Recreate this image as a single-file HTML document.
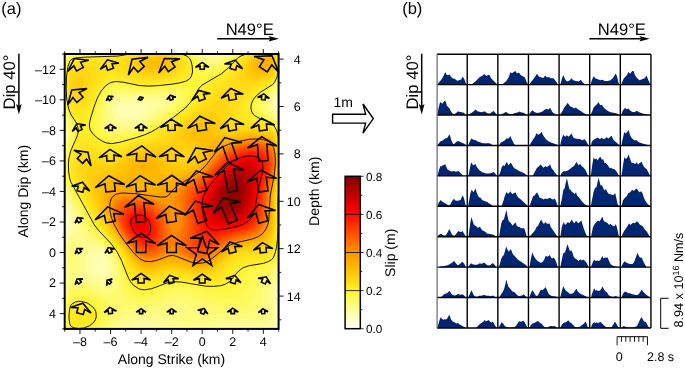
<!DOCTYPE html>
<html><head><meta charset="utf-8"><style>
html,body{margin:0;padding:0;background:#fff;width:685px;height:369px;overflow:hidden}
svg{display:block;will-change:transform}
text{font-family:"Liberation Sans",sans-serif;text-rendering:geometricPrecision}
</style></head><body>
<svg width="685" height="369" viewBox="0 0 685 369" font-family="Liberation Sans, sans-serif" fill="#000"><rect x="64.7" y="54.0" width="213.90" height="274.90" fill="rgb(255, 255, 246)"/>
<path fill="rgb(255, 255, 229)" fill-rule="evenodd" d="M278.6,328.9 64.7,328.9 64.7,54.0 278.6,54.0 278.6,328.9Z"/>
<path fill="rgb(255, 255, 212)" fill-rule="evenodd" d="M278.6,328.9 64.7,328.9 64.7,224.0 65.1,217.9 64.7,211.5 64.7,54.0 278.6,54.0 278.6,328.9Z"/>
<path fill="rgb(255, 254, 195)" fill-rule="evenodd" d="M277.6,328.9 64.7,328.9 64.7,234.6 66.8,223.9 67.1,218.9 66.7,212.9 64.7,200.5 64.7,141.2 65.3,132.0 64.7,124.0 64.7,54.4 65.4,54.0 278.6,54.0 278.6,97.2 277.5,103.0 278.6,109.4 278.6,327.7 278.3,328.9 277.6,328.9Z"/>
<path fill="rgb(255, 254, 178)" fill-rule="evenodd" d="M275.6,328.9 64.7,328.9 64.7,243.2 65.8,236.9 69.0,224.9 69.4,219.9 68.8,213.9 64.7,193.0 64.7,146.9 66.1,132.0 64.7,118.9 64.7,55.6 65.3,55.0 67.4,54.0 278.6,54.0 278.6,92.9 276.2,99.0 275.4,103.0 276.0,107.0 278.6,114.3 278.6,280.5 277.4,292.9 277.6,318.9 276.9,324.9 275.6,328.9Z"/>
<path fill="rgb(255, 253, 160)" fill-rule="evenodd" d="M268.6,328.9 246.2,328.9 233.6,327.9 223.6,328.9 162.5,328.9 150.7,326.5 141.7,325.8 133.7,326.5 124.8,328.9 64.7,328.9 64.7,292.8 65.7,278.9 64.9,258.9 65.2,249.9 66.7,240.0 68.7,233.9 71.8,226.9 72.5,221.9 71.8,216.9 66.7,198.0 64.7,186.3 64.7,152.0 66.5,139.0 67.0,132.0 66.6,126.0 64.7,114.6 64.7,57.0 65.7,55.7 67.7,54.6 70.2,54.0 204.6,54.0 209.6,55.2 213.6,55.5 217.6,55.2 223.5,54.0 278.6,54.0 278.6,89.6 274.2,99.0 273.2,104.0 274.1,108.0 278.6,117.9 278.6,272.6 276.3,283.9 275.5,290.9 275.7,313.9 275.1,320.9 274.1,324.9 272.6,327.3 270.6,328.5 268.6,328.9ZM130.8,119.0 136.7,117.3 142.3,114.0 146.1,110.0 146.6,108.0 146.2,107.0 144.9,106.0 142.3,105.0 129.7,102.6 123.7,102.9 119.7,104.7 117.9,107.0 117.2,110.0 117.7,112.8 118.9,115.0 120.9,117.0 123.7,118.4 126.7,119.0 130.8,119.0ZM104.0,275.9 106.8,273.9 108.6,269.9 108.8,265.9 107.7,261.1 105.7,257.5 102.7,254.7 98.7,253.0 95.7,253.3 93.4,254.9 91.4,258.9 90.8,263.9 91.7,268.9 93.7,272.3 96.7,274.9 100.7,276.3 104.0,275.9Z"/>
<path fill="rgb(255, 252, 143)" fill-rule="evenodd" d="M201.6,328.9 186.5,328.9 183.6,328.5 175.4,326.9 156.7,321.8 150.7,320.9 143.7,320.6 135.7,321.1 129.7,322.4 123.7,324.8 115.9,328.9 64.8,328.9 64.7,301.8 67.1,278.9 66.1,258.9 66.4,249.9 67.5,243.9 68.7,240.1 70.7,236.6 73.6,233.9 75.1,231.9 76.2,228.9 76.4,225.9 76.1,221.9 74.8,216.9 69.7,203.8 67.7,197.1 65.8,188.0 64.7,178.8 64.7,157.8 67.5,138.0 67.9,132.0 67.3,125.0 64.7,110.6 64.7,59.2 65.6,57.0 67.7,55.3 70.7,54.5 78.9,54.0 199.9,54.0 207.6,56.8 213.6,57.6 219.6,56.7 228.5,54.0 278.6,54.0 278.6,86.8 276.2,92.0 271.1,100.0 270.2,104.0 271.3,108.0 275.6,114.6 278.6,121.0 278.6,266.4 273.0,289.9 272.5,296.9 272.8,311.9 272.0,317.9 270.6,320.8 268.6,322.8 265.6,324.4 262.6,325.1 255.6,325.5 238.6,323.9 230.6,323.8 222.6,324.7 201.6,328.9ZM133.6,123.0 138.7,121.3 143.5,119.0 155.1,111.0 160.5,106.0 161.4,104.0 160.7,102.0 158.7,101.0 155.7,100.5 141.7,99.9 126.7,98.3 119.7,99.0 115.7,101.0 112.7,105.0 111.7,110.0 112.4,115.0 114.7,118.9 118.6,122.0 122.7,123.4 127.7,123.8 133.6,123.0ZM106.0,281.9 107.9,280.9 109.7,279.2 111.0,276.9 111.9,273.9 112.1,266.9 110.4,259.9 107.6,254.9 102.7,250.4 96.7,247.8 93.7,247.6 91.7,247.9 89.7,249.1 88.2,250.9 86.2,256.9 85.4,265.9 85.8,269.9 86.7,272.6 89.7,276.9 94.7,280.3 100.7,282.3 103.7,282.4 106.0,281.9Z"/>
<path fill="rgb(255, 251, 126)" fill-rule="evenodd" d="M109.7,328.9 65.6,328.9 65.4,327.9 64.7,318.9 65.1,306.9 66.0,297.9 69.1,277.9 67.7,261.9 67.6,253.9 68.7,247.0 70.7,243.0 73.7,242.1 77.7,242.2 79.7,243.2 80.6,244.9 81.3,251.9 79.5,267.9 79.5,271.9 80.2,274.9 81.4,276.9 85.8,280.9 91.7,284.1 98.7,286.7 103.7,287.8 107.7,287.6 110.7,286.1 113.1,282.9 114.6,277.9 115.1,272.9 114.6,266.9 113.1,260.9 110.7,255.5 107.7,251.4 103.7,247.8 99.7,245.3 94.7,243.0 85.9,239.9 83.4,237.9 82.3,234.9 78.4,218.9 75.6,211.9 70.0,199.9 67.3,191.0 65.6,181.0 64.9,169.0 65.5,156.0 68.4,138.0 68.8,132.0 68.4,126.0 64.7,106.4 64.7,63.9 65.9,58.0 67.7,56.1 69.7,55.3 81.7,54.4 196.3,54.0 207.6,59.7 212.6,60.6 217.6,59.7 232.2,54.0 278.6,54.0 278.6,84.1 275.6,90.6 268.2,100.0 267.1,104.0 267.6,107.0 268.6,109.0 274.6,115.8 276.6,119.1 278.6,123.9 278.6,260.7 275.6,273.0 268.8,288.9 267.7,294.9 266.9,308.9 266.3,311.9 265.0,314.9 261.6,318.0 256.6,319.5 250.6,319.8 235.6,318.9 227.6,319.1 218.6,320.2 203.6,323.1 196.6,323.6 190.6,323.2 184.6,322.0 170.7,316.7 164.7,315.3 153.7,314.6 136.7,315.3 129.7,316.5 124.7,318.4 109.7,328.9ZM130.5,127.0 137.7,125.2 143.7,122.6 151.5,118.0 161.9,111.0 166.9,107.0 169.5,104.0 170.5,101.0 169.7,99.1 166.7,97.4 162.7,96.7 142.7,96.8 124.7,95.1 118.7,95.5 113.7,97.7 111.7,99.5 109.9,102.0 108.0,108.0 107.9,114.0 108.6,117.0 109.9,120.0 113.4,124.0 117.7,126.3 123.7,127.4 130.5,127.0Z"/>
<path fill="rgb(255, 250, 109)" fill-rule="evenodd" d="M103.7,328.9 66.5,328.9 65.8,324.9 65.4,312.9 66.6,299.9 68.7,290.5 70.7,285.7 71.7,284.6 75.7,283.6 79.7,284.2 103.7,293.0 107.7,294.0 110.7,294.2 113.7,292.9 115.8,289.9 117.2,284.9 117.8,277.9 117.5,271.9 116.5,265.9 114.8,259.9 112.4,254.9 109.7,250.9 105.7,246.7 91.6,236.9 86.9,231.9 84.7,227.7 77.6,210.9 70.7,197.5 67.7,188.1 65.9,176.0 65.6,163.0 66.4,154.0 69.4,138.0 70.0,132.0 69.4,126.0 66.0,111.0 64.7,101.4 64.7,69.8 65.7,61.9 66.8,58.0 68.7,56.4 70.7,55.7 82.7,54.8 119.5,54.0 193.1,54.0 198.8,57.0 205.6,62.6 208.6,63.8 211.6,64.1 214.6,63.7 218.6,62.4 228.4,57.0 235.3,54.0 278.6,54.0 278.6,81.5 276.6,86.6 274.6,89.8 265.8,99.0 264.4,102.0 264.0,105.0 264.7,108.0 265.8,110.0 268.7,113.0 272.6,116.0 275.6,119.7 278.6,126.7 278.6,255.0 276.9,263.9 274.6,270.8 272.6,274.6 266.5,281.9 263.9,286.9 262.4,291.9 260.3,302.9 258.2,307.9 256.5,309.9 253.6,311.8 247.6,313.2 205.6,313.5 201.6,312.8 197.6,311.2 187.9,303.9 184.3,301.9 179.6,300.6 174.6,300.5 170.7,301.6 159.8,305.9 152.7,307.7 143.7,308.9 128.7,309.4 123.7,310.6 119.7,313.4 108.5,325.9 104.7,328.9 103.7,328.9ZM129.9,130.0 137.7,128.1 145.0,125.0 153.6,120.0 167.1,111.0 171.9,107.0 175.2,103.0 176.2,100.0 175.4,97.0 172.5,95.0 167.7,93.9 142.7,94.3 123.7,92.2 116.7,92.8 111.7,95.2 109.7,97.0 107.5,100.0 105.0,107.0 104.5,115.0 105.3,119.0 106.4,122.0 109.7,126.3 114.7,129.4 121.7,130.6 129.9,130.0ZM71.7,262.0 70.7,261.4 70.1,256.9 70.7,252.4 71.7,251.8 72.9,252.9 73.7,255.9 73.3,258.9 71.7,262.0Z"/>
<path fill="rgb(255, 249, 92)" fill-rule="evenodd" d="M242.6,305.9 237.6,306.6 230.6,306.8 223.6,306.3 216.6,305.2 208.6,302.8 190.6,294.9 184.6,293.2 179.6,292.4 175.6,292.4 171.7,293.2 154.7,300.8 149.7,302.3 143.7,303.3 137.7,303.2 131.5,301.9 127.3,299.9 124.2,296.9 122.9,293.9 122.1,290.9 120.2,274.9 118.9,267.9 117.2,261.9 114.8,255.9 111.7,250.9 108.7,247.2 104.7,243.4 94.1,234.9 88.9,228.9 78.0,206.9 70.7,193.6 68.2,186.0 66.5,175.0 66.3,162.0 67.3,153.0 71.0,136.0 71.4,131.0 70.9,127.0 67.0,112.0 65.5,104.0 64.7,93.8 64.7,78.7 66.3,63.0 67.3,59.0 68.7,57.3 71.7,56.2 78.7,55.5 117.7,54.6 122.3,54.0 190.2,54.0 194.3,56.0 197.0,58.0 201.6,64.0 203.6,65.8 206.6,67.4 209.6,67.8 213.6,67.3 218.6,65.5 223.6,62.6 231.6,57.0 238.2,54.0 278.6,54.0 278.6,78.9 277.6,82.0 275.6,86.3 273.6,89.1 266.4,95.0 263.6,98.0 261.8,101.0 260.9,105.0 261.8,109.0 263.9,112.0 267.4,115.0 272.6,118.3 274.6,120.4 276.7,124.0 278.6,129.4 278.6,248.8 278.1,252.9 275.6,263.9 272.6,270.0 263.3,277.9 259.9,281.9 257.3,286.9 253.5,296.9 251.2,300.9 247.6,304.0 242.6,305.9ZM127.7,133.0 136.7,130.9 145.7,127.4 153.7,122.8 170.0,112.0 176.0,107.0 179.9,102.0 181.1,98.0 180.2,95.0 178.6,93.5 175.6,92.1 168.7,91.2 142.7,92.0 120.7,89.5 114.7,90.4 110.7,92.3 107.7,95.0 105.5,98.0 103.6,102.0 102.3,106.0 101.2,115.0 101.6,119.0 102.7,123.1 104.1,126.0 106.5,129.0 109.0,131.0 111.7,132.3 114.7,133.2 118.7,133.7 127.7,133.0ZM99.7,328.9 67.5,328.9 66.6,324.9 66.2,319.9 66.7,306.2 68.7,295.9 69.7,293.2 71.7,290.6 74.7,289.5 78.7,289.1 82.7,289.7 88.7,291.5 95.7,294.3 102.5,297.9 106.8,300.9 109.7,303.9 111.3,306.9 111.7,309.9 111.4,312.9 110.1,316.9 108.1,320.9 105.8,323.9 102.7,326.9 99.7,328.9Z"/>
<path fill="rgb(255, 247, 75)" fill-rule="evenodd" d="M231.6,299.0 224.6,298.8 217.6,297.6 190.5,289.9 179.6,287.9 174.6,287.9 170.7,288.6 152.7,296.3 147.7,297.7 143.7,298.2 138.7,297.9 134.7,296.6 130.7,294.1 127.9,290.9 124.8,283.9 119.6,263.9 115.7,254.6 112.8,249.9 109.7,246.1 95.5,232.9 90.6,226.9 70.8,190.0 68.7,183.6 67.0,172.0 67.1,160.0 68.7,150.1 72.7,136.0 73.3,131.0 72.5,126.0 68.7,115.3 66.6,107.0 65.4,97.0 65.1,85.0 65.5,74.0 66.4,66.0 67.9,60.0 69.7,57.6 72.7,56.8 80.5,56.0 117.7,55.1 124.9,54.0 187.4,54.0 191.7,56.0 194.3,58.0 199.6,67.3 201.6,69.8 204.6,71.6 207.6,72.0 213.6,70.8 219.6,68.2 225.6,64.1 232.7,58.0 236.1,56.0 240.9,54.0 278.6,54.0 278.6,76.2 277.2,81.0 275.6,84.3 273.6,87.1 264.6,94.0 260.6,98.0 258.4,102.0 257.7,106.0 258.7,110.0 260.9,113.0 264.9,116.0 272.6,120.4 274.6,122.5 276.6,126.0 278.6,132.2 278.6,241.4 277.0,253.9 275.2,260.9 272.6,266.0 268.6,268.9 258.2,274.9 254.5,277.9 251.4,281.9 246.5,290.9 242.6,295.3 237.6,297.9 231.6,299.0ZM124.9,136.0 137.5,133.0 146.7,129.4 155.7,124.3 172.5,113.0 179.6,107.0 184.3,101.0 185.5,98.0 185.8,96.0 185.5,94.0 184.6,92.3 181.4,90.0 175.6,88.9 168.7,88.8 143.7,90.0 120.7,86.9 114.7,87.4 111.7,88.4 109.1,90.0 106.0,93.0 103.7,96.2 101.7,100.0 99.9,105.0 98.6,111.0 98.0,116.0 98.2,121.0 99.1,125.0 100.4,128.0 102.7,131.0 105.7,133.6 108.7,135.3 111.7,136.3 115.7,136.8 124.9,136.0ZM94.7,328.9 68.8,328.9 67.7,325.7 67.0,320.9 67.2,309.9 68.7,301.0 69.7,297.9 71.7,295.2 74.7,293.9 78.7,293.3 82.7,293.7 87.7,295.0 92.7,297.1 97.5,299.9 101.2,302.9 103.6,305.9 105.1,308.9 105.7,311.9 105.4,315.9 104.5,318.9 102.9,321.9 100.5,324.9 97.7,327.3 94.7,328.9Z"/>
<path fill="rgb(255, 246, 58)" fill-rule="evenodd" d="M148.7,293.1 143.7,293.8 138.7,293.1 133.7,290.5 130.2,286.9 126.9,280.9 120.5,261.9 116.3,252.9 110.7,245.1 97.4,231.9 92.6,225.9 71.7,187.9 70.0,184.0 68.7,178.8 67.8,172.0 67.9,160.0 69.7,150.1 74.2,138.0 75.4,131.0 75.2,128.0 74.1,124.0 70.7,117.4 68.6,112.0 67.0,105.0 66.0,98.0 65.6,87.0 66.0,75.0 67.2,66.0 69.1,60.0 69.7,58.9 71.1,58.0 76.7,57.0 117.7,55.6 127.4,54.0 184.5,54.0 189.1,56.0 191.8,58.0 193.9,62.0 198.4,75.0 200.6,76.9 203.6,77.4 210.6,75.7 219.6,71.4 226.6,66.4 235.3,58.0 238.5,56.0 243.5,54.0 278.0,54.0 278.6,54.9 278.6,73.3 276.3,81.0 274.6,84.0 272.6,86.3 262.7,93.0 258.4,97.0 255.7,101.0 254.4,106.0 255.0,110.0 257.7,114.0 262.0,117.0 271.6,121.7 273.6,123.3 276.6,128.2 278.6,135.0 278.5,231.9 276.9,249.9 275.6,255.7 273.6,260.8 271.6,263.2 267.6,265.5 251.9,270.9 247.9,272.9 244.5,275.9 239.1,283.9 236.6,286.7 233.4,288.9 229.6,290.4 222.6,291.3 212.6,290.7 202.6,289.1 183.6,285.1 175.6,284.4 171.7,284.8 167.7,285.8 154.7,291.3 148.7,293.1ZM116.2,140.0 131.7,136.8 145.7,132.2 154.7,127.5 172.6,115.5 182.0,108.0 188.0,101.0 189.6,98.0 190.8,94.0 190.8,90.0 189.8,88.0 186.6,86.4 181.6,86.0 152.7,87.9 143.7,88.0 118.7,84.3 113.7,84.7 108.7,86.9 105.7,89.5 102.8,93.0 98.7,101.0 95.1,114.0 94.3,120.0 94.4,124.0 95.1,127.0 96.4,130.0 98.6,133.0 101.8,136.0 104.9,138.0 108.7,139.5 112.7,140.1 116.2,140.0ZM88.7,328.9 70.6,328.9 69.7,327.7 68.6,324.9 68.0,320.9 68.1,310.9 69.7,302.8 70.7,300.6 72.7,298.9 75.7,297.7 78.7,297.3 82.7,297.5 86.7,298.6 90.7,300.3 94.7,302.9 96.9,304.9 99.2,307.9 100.5,310.9 101.0,313.9 100.7,316.9 99.7,319.9 97.9,322.9 94.8,325.9 91.5,327.9 88.7,328.9Z"/>
<path fill="rgb(255, 238, 38)" fill-rule="evenodd" d="M150.7,288.9 144.7,289.8 139.7,289.2 135.7,287.2 131.7,283.3 127.9,276.9 121.6,260.9 117.7,252.9 111.7,244.4 99.0,230.9 94.3,224.9 70.7,181.7 69.4,177.0 68.6,171.0 68.4,165.0 68.8,159.0 70.7,150.9 77.2,136.0 78.4,130.0 77.9,127.0 76.4,123.0 69.7,111.9 67.7,105.0 66.7,99.0 66.1,88.0 66.5,76.0 67.7,67.5 69.7,61.4 72.0,59.0 77.7,57.7 86.5,57.0 117.7,56.1 129.8,54.0 181.6,54.0 186.7,56.0 190.1,59.0 191.6,63.0 192.4,67.0 192.2,74.0 191.1,77.0 189.6,78.8 187.6,80.3 184.6,81.6 178.6,83.1 169.7,84.5 156.7,85.8 147.7,86.1 138.7,85.5 122.7,82.1 115.7,81.5 112.7,81.9 109.7,83.0 104.4,87.0 99.7,93.5 95.7,102.0 90.4,119.0 89.4,124.0 89.5,127.0 90.3,130.0 92.3,133.0 98.7,139.0 105.7,142.7 111.7,143.6 121.7,141.8 143.7,135.2 152.7,131.1 161.7,125.5 178.1,114.0 187.3,106.0 192.3,100.0 197.8,90.0 201.0,86.0 205.1,83.0 216.6,76.7 223.6,72.1 229.6,66.7 236.5,59.0 240.6,56.1 246.1,54.0 277.3,54.0 278.6,56.3 278.6,69.8 277.6,75.0 275.6,80.5 272.6,84.6 260.8,92.0 256.1,96.0 253.7,99.0 252.1,102.0 251.2,105.0 250.9,108.0 251.8,112.0 253.1,114.0 255.3,116.0 259.6,118.4 271.6,123.6 273.6,125.1 276.6,130.3 278.6,137.9 278.6,188.1 278.0,199.9 278.0,230.9 276.6,246.6 275.5,251.9 273.6,257.2 271.6,259.7 265.6,262.7 259.6,264.2 248.3,265.9 242.8,267.9 238.6,271.1 229.6,281.6 226.0,283.9 221.6,285.4 214.6,286.4 206.6,286.3 199.6,285.4 181.6,282.1 173.6,281.7 166.7,283.1 150.7,288.9ZM83.7,328.0 78.7,328.5 74.5,327.9 71.7,326.8 70.7,325.9 69.7,323.7 68.9,316.9 69.7,308.5 70.7,305.5 71.7,304.2 75.7,301.9 78.7,301.3 81.7,301.4 87.7,303.2 92.8,306.9 94.7,309.3 95.9,311.9 96.3,316.9 95.3,319.9 94.1,321.9 89.7,325.7 83.7,328.0Z"/>
<path fill="rgb(255, 234, 35)" fill-rule="evenodd" d="M82.7,121.1 80.7,121.1 78.7,119.9 71.7,112.3 69.7,108.7 67.7,100.9 66.7,87.0 67.6,73.0 69.7,64.3 70.7,62.6 72.7,61.0 76.9,59.0 82.7,58.1 117.7,56.7 125.7,55.5 132.1,54.0 178.5,54.0 184.2,56.0 185.8,57.0 187.8,59.0 188.8,62.0 189.4,66.0 189.1,70.0 188.2,73.0 186.2,76.0 183.8,78.0 176.6,81.0 163.7,83.3 148.7,84.3 138.7,83.4 117.7,78.6 112.7,78.7 107.7,80.5 103.4,84.0 99.0,90.0 95.3,97.0 87.7,114.9 84.7,119.6 82.7,121.1ZM149.7,285.9 144.7,286.4 139.7,285.5 135.7,283.1 131.8,278.9 128.7,273.6 122.2,258.9 118.5,251.9 112.7,243.7 100.4,229.9 95.2,222.9 72.7,181.5 70.7,176.9 69.9,173.0 69.4,168.0 69.5,162.0 70.7,155.4 75.7,145.1 80.7,137.3 83.7,135.6 85.7,135.8 87.7,136.8 97.0,143.0 101.7,145.4 105.7,146.7 109.7,147.2 117.7,145.7 143.7,137.3 150.7,134.6 160.7,128.7 177.6,116.8 186.3,110.0 193.6,103.0 204.6,89.3 209.6,85.2 220.6,77.9 225.6,74.0 230.6,69.1 238.7,59.0 241.3,57.0 248.8,54.0 276.5,54.0 277.9,56.0 278.5,58.0 278.6,64.2 277.6,72.2 275.4,79.0 272.6,82.8 258.7,91.0 252.7,96.0 248.8,102.0 247.5,106.0 247.1,109.0 247.4,112.0 248.2,114.0 250.9,117.0 255.6,119.4 269.6,124.4 273.6,126.9 276.4,132.0 278.3,139.0 278.6,141.0 278.6,182.8 277.6,197.9 277.5,228.9 276.2,243.9 274.9,249.9 273.6,253.6 271.6,256.3 265.6,259.4 259.6,260.6 246.6,261.9 240.2,263.9 235.6,267.2 225.6,278.1 221.6,280.6 217.6,282.0 210.6,283.2 203.6,283.2 180.6,279.6 173.6,279.3 166.7,280.4 149.7,285.9ZM82.7,325.1 78.7,325.5 74.7,324.7 71.7,322.5 70.7,320.3 70.4,314.9 71.3,310.9 73.6,307.9 76.7,306.2 80.7,305.8 84.9,306.9 88.7,309.6 90.8,312.9 91.3,316.9 89.7,320.7 86.7,323.4 82.7,325.1Z"/>
<path fill="rgb(255, 229, 32)" fill-rule="evenodd" d="M82.7,114.1 80.7,114.8 77.7,114.1 71.7,109.0 69.7,105.3 68.2,99.0 67.5,93.0 67.4,85.0 68.6,72.0 70.7,65.5 74.7,62.4 79.7,60.4 85.7,59.2 105.7,58.6 116.7,57.6 136.3,54.0 175.0,54.0 181.6,56.0 183.6,57.2 185.4,59.0 186.4,62.0 186.7,66.0 185.9,70.0 184.3,73.0 182.5,75.0 179.6,77.0 175.6,78.8 170.7,80.2 157.7,82.1 145.7,82.3 136.7,80.9 116.7,75.2 111.7,75.0 107.7,76.3 103.0,80.0 98.7,85.5 94.7,92.7 87.7,107.6 84.9,112.0 82.7,114.1ZM149.7,283.0 144.7,283.4 140.7,282.6 136.7,280.3 133.7,277.4 129.7,271.4 122.0,255.9 117.9,248.9 111.7,240.6 100.1,226.9 94.9,218.9 74.7,180.7 71.7,173.9 70.7,169.0 70.8,162.0 71.7,157.9 74.7,151.4 77.7,146.6 79.7,144.3 81.7,142.9 83.7,142.3 85.7,142.3 88.7,143.3 101.7,149.7 105.7,150.7 109.7,150.8 115.7,149.4 129.6,144.0 146.7,138.4 153.7,135.6 162.7,130.1 183.4,115.0 192.0,108.0 208.6,90.9 223.6,79.6 228.6,75.2 232.6,70.5 240.1,60.0 242.6,57.6 246.6,55.6 251.7,54.0 275.7,54.0 277.3,56.0 277.9,58.0 278.1,64.0 277.0,72.0 274.6,78.5 271.6,81.9 256.3,90.0 249.8,95.0 247.4,98.0 245.1,102.0 243.4,107.0 242.7,111.0 242.9,114.0 243.7,116.0 246.8,119.0 251.6,121.0 266.6,125.0 272.6,127.7 275.6,132.0 277.6,138.4 278.6,144.5 278.6,178.1 277.1,196.9 277.0,227.9 275.6,242.5 274.3,247.9 272.6,251.9 269.6,254.5 264.6,256.6 259.6,257.6 245.6,258.7 238.6,260.8 233.6,264.4 225.8,272.9 222.6,275.7 218.6,278.1 213.6,279.8 207.6,280.7 201.6,280.8 179.6,277.4 172.6,277.1 166.7,278.0 149.7,283.0ZM80.7,320.1 77.7,319.9 75.6,317.9 75.7,314.9 76.7,313.6 78.7,312.5 81.7,312.8 83.7,314.9 83.6,317.9 82.7,319.0 80.7,320.1Z"/>
<path fill="rgb(255, 224, 28)" fill-rule="evenodd" d="M81.7,109.2 79.7,109.9 77.7,109.7 74.7,108.1 71.7,105.5 69.7,101.5 68.6,96.0 68.2,83.0 68.7,76.6 69.7,71.6 71.7,67.6 76.7,64.2 81.7,62.5 87.7,61.7 107.7,62.8 110.7,61.8 115.9,59.0 133.7,55.1 144.0,54.0 170.6,54.0 178.9,56.0 180.9,57.0 183.1,59.0 184.0,62.0 184.0,66.0 182.8,70.0 180.6,72.9 178.0,75.0 174.1,77.0 163.7,79.6 151.7,80.5 141.7,79.8 131.3,77.0 113.7,69.9 110.7,69.3 107.7,69.9 103.7,73.1 99.7,78.3 95.2,86.0 86.7,103.2 84.1,107.0 81.7,109.2ZM151.7,280.1 146.7,280.7 141.7,280.0 137.7,277.9 134.7,275.2 130.7,269.7 122.8,254.9 118.7,248.2 112.7,240.1 102.7,227.9 98.0,220.9 76.7,179.4 73.9,173.0 72.8,168.0 72.7,164.0 73.7,159.2 75.7,154.7 79.7,149.4 81.7,148.1 84.7,147.5 88.7,148.5 101.7,153.9 106.7,154.6 110.7,154.3 115.7,152.5 131.7,145.4 149.7,139.7 156.7,136.8 162.7,133.1 192.1,111.0 199.2,105.0 212.6,92.5 227.3,81.0 232.6,75.2 240.9,62.0 244.2,58.0 247.9,56.0 254.9,54.0 274.6,54.0 275.8,55.0 277.1,57.0 277.6,62.0 276.6,70.9 274.4,77.0 271.6,80.1 253.2,89.0 249.6,91.3 246.4,94.0 243.3,98.0 240.6,103.0 238.3,109.0 237.4,114.0 237.7,117.0 238.7,119.0 240.6,120.7 242.6,121.7 247.2,123.0 262.6,125.6 271.6,128.8 274.6,131.9 276.9,138.0 278.6,148.5 278.6,173.2 276.6,195.9 276.6,221.9 276.1,231.9 274.6,242.9 272.6,248.6 268.6,252.1 263.6,254.1 258.6,254.9 245.6,255.9 241.0,256.9 237.6,258.2 232.2,261.9 224.6,270.1 220.6,273.6 216.6,275.9 211.6,277.7 205.6,278.6 199.6,278.6 179.6,275.4 172.6,274.9 166.7,275.8 151.7,280.1Z"/>
<path fill="rgb(255, 219, 24)" fill-rule="evenodd" d="M160.7,78.1 153.7,78.6 146.7,78.4 140.7,77.5 135.6,76.0 128.8,73.0 122.5,69.0 120.0,66.0 119.7,63.0 120.8,61.0 123.0,59.0 133.7,56.1 145.7,54.6 157.2,54.0 167.7,54.4 175.6,55.9 179.8,58.0 181.0,60.0 181.6,64.0 180.7,68.0 178.6,71.1 175.6,73.6 171.7,75.6 166.7,77.1 160.7,78.1ZM149.7,278.0 145.7,278.1 141.7,277.3 137.7,275.1 134.7,272.2 130.7,266.6 119.7,247.9 104.5,227.9 99.9,220.9 95.1,211.9 76.9,173.0 75.8,169.0 75.5,165.0 76.1,161.0 77.7,157.4 80.7,154.0 82.7,153.1 84.7,152.8 88.7,153.5 101.7,158.1 105.7,158.6 109.7,158.2 114.7,156.4 126.6,150.0 132.7,147.2 153.2,141.0 159.7,138.3 164.7,135.1 176.9,125.0 201.4,107.0 229.6,84.9 234.5,79.0 241.9,64.0 244.5,60.0 246.4,58.0 251.6,55.6 258.8,54.0 273.6,54.2 275.6,55.7 276.4,57.0 277.0,62.0 276.1,70.0 273.6,76.3 271.6,78.4 268.6,80.1 248.7,88.0 242.6,92.0 239.3,96.0 235.1,104.0 232.3,111.0 231.4,116.0 231.6,119.0 232.4,121.0 234.1,123.0 235.7,124.0 240.6,125.3 257.6,126.5 266.6,128.4 272.6,131.1 274.6,133.8 275.9,137.0 277.4,143.0 278.3,150.0 278.6,167.0 276.1,195.9 275.6,230.3 274.6,238.3 272.6,245.1 271.3,246.9 268.9,248.9 263.6,251.4 258.6,252.4 243.6,253.9 236.6,256.1 231.0,259.9 219.6,271.2 215.6,273.7 210.6,275.6 204.6,276.7 198.6,276.7 178.6,273.3 172.6,272.9 166.7,273.7 154.7,277.1 149.7,278.0ZM79.7,105.1 76.7,105.1 73.7,103.5 71.7,101.7 70.1,98.0 69.1,92.0 69.0,85.0 69.7,77.0 70.7,73.2 71.7,71.4 74.3,69.0 79.7,66.3 85.7,65.3 91.9,66.0 94.7,67.3 96.4,69.0 96.9,72.0 96.3,75.0 91.8,86.0 86.2,98.0 82.7,103.0 79.7,105.1Z"/>
<path fill="rgb(255, 213, 20)" fill-rule="evenodd" d="M160.7,76.1 153.7,76.6 147.7,76.4 142.7,75.6 137.5,74.0 131.6,71.0 127.9,68.0 126.2,65.0 126.4,62.0 128.9,59.0 133.7,57.3 140.4,56.0 149.7,55.0 158.7,54.7 166.7,55.0 172.4,56.0 177.1,58.0 178.5,60.0 178.9,64.0 178.1,67.0 176.1,70.0 173.6,72.0 169.7,74.0 160.7,76.1ZM248.6,84.0 244.6,84.4 241.6,83.7 240.3,82.0 240.0,80.0 240.5,75.0 242.2,69.0 244.8,63.0 247.5,59.0 250.5,57.0 253.0,56.0 260.6,54.4 270.6,54.2 272.6,54.6 274.6,55.6 275.7,57.0 276.3,59.0 276.2,65.0 274.7,72.0 272.6,75.7 268.6,78.3 263.6,80.4 256.6,82.5 248.6,84.0ZM78.7,100.2 76.7,100.3 74.7,99.5 72.0,97.0 71.0,95.0 70.1,88.0 70.7,79.4 72.7,75.1 76.7,71.6 80.7,70.0 85.7,70.0 88.0,71.0 89.8,73.0 90.5,76.0 90.0,80.0 87.8,87.0 84.7,93.7 81.7,98.1 78.7,100.2ZM202.6,274.9 194.6,274.5 178.6,271.4 172.6,270.9 166.7,271.6 152.7,275.3 146.7,275.8 141.7,274.8 136.7,271.5 132.1,265.9 121.6,248.9 105.5,226.9 100.5,218.9 94.4,205.9 81.8,176.0 79.8,170.0 79.6,165.0 81.1,161.0 82.7,159.6 84.7,158.9 88.7,159.2 101.7,162.5 106.7,162.6 110.7,161.8 114.7,160.0 126.7,152.5 134.0,149.0 140.7,146.6 155.7,143.1 161.7,141.1 166.7,138.0 174.9,130.0 180.8,125.0 194.6,115.1 219.6,100.2 223.6,98.3 226.6,97.8 228.0,99.0 228.1,101.0 225.7,111.0 225.4,118.0 226.9,123.0 229.4,126.0 232.6,127.6 235.6,128.2 255.6,128.2 265.6,129.7 269.6,131.1 272.6,132.8 274.2,135.0 275.6,138.1 277.7,148.0 278.4,162.0 277.8,173.0 275.5,195.9 275.4,221.9 274.6,232.9 273.6,238.4 272.4,241.9 270.2,244.9 266.6,247.6 260.6,249.8 243.6,251.9 236.6,253.8 230.6,257.5 220.6,267.5 216.1,270.9 209.6,273.8 202.6,274.9Z"/>
<path fill="rgb(255, 207, 15)" fill-rule="evenodd" d="M255.6,80.1 251.6,80.2 248.6,79.6 246.2,78.0 245.0,76.0 244.6,72.0 245.3,68.0 246.7,64.0 249.0,60.0 251.1,58.0 253.1,57.0 259.6,55.3 268.6,54.8 271.6,55.1 273.9,56.0 274.8,57.0 275.6,59.0 275.6,64.0 274.6,69.6 272.6,73.7 269.6,75.8 265.6,77.7 260.6,79.2 255.6,80.1ZM160.7,74.0 154.7,74.5 149.7,74.3 144.7,73.5 140.0,72.0 136.2,70.0 132.9,67.0 131.7,64.0 132.0,62.0 134.6,59.0 137.0,58.0 142.7,56.7 151.7,55.7 159.7,55.5 167.4,56.0 171.9,57.0 175.2,59.0 176.0,61.0 176.1,64.0 175.4,66.0 173.6,68.6 171.7,70.3 168.4,72.0 160.7,74.0ZM78.7,93.1 76.7,93.5 74.4,92.0 73.1,89.0 72.9,85.0 73.7,81.9 75.7,78.7 77.7,77.1 80.7,76.5 82.7,77.4 83.7,78.9 84.0,83.0 83.3,86.0 81.7,89.7 78.7,93.1ZM204.6,273.0 195.6,272.9 178.6,269.6 172.6,268.9 166.7,269.6 152.7,273.2 146.7,273.6 141.7,272.4 137.7,269.9 132.7,264.2 122.1,247.9 107.1,226.9 102.3,218.9 97.3,207.9 90.8,191.0 87.3,179.0 86.4,172.0 87.2,169.0 89.7,167.2 92.7,166.8 105.7,166.9 112.7,165.1 116.7,162.8 129.0,154.0 138.7,149.5 147.7,147.4 164.7,145.3 168.7,144.1 171.7,141.2 175.4,135.0 178.4,131.0 186.3,124.0 193.6,118.9 201.6,114.5 207.6,112.2 212.6,111.6 214.6,112.1 216.6,113.5 222.5,126.0 224.6,128.2 227.8,130.0 234.6,131.1 251.6,129.9 259.6,130.1 267.6,131.8 272.6,134.4 275.2,139.0 276.9,146.0 277.9,156.0 277.8,167.0 274.9,195.9 274.4,227.9 272.8,236.9 270.8,240.9 266.7,244.9 261.6,247.3 256.6,248.4 242.6,250.2 234.6,252.7 229.6,256.0 219.6,265.7 215.6,268.8 210.6,271.4 204.6,273.0ZM186.7,161.0 189.5,159.0 190.5,157.0 190.3,155.0 188.8,153.0 185.6,151.3 181.6,150.6 178.6,151.0 176.6,152.2 175.8,154.0 175.7,156.0 176.3,158.0 177.7,160.0 179.6,161.1 181.6,161.6 183.6,161.7 186.7,161.0Z"/>
<path fill="rgb(255, 200, 10)" fill-rule="evenodd" d="M259.6,77.1 255.6,77.2 252.6,76.6 250.6,75.6 249.2,74.0 248.1,71.0 248.2,68.0 249.2,64.0 250.8,61.0 252.3,59.0 253.7,58.0 259.6,56.1 266.6,55.5 272.6,56.2 274.4,58.0 275.0,62.0 274.4,67.0 272.6,71.4 270.6,73.2 267.2,75.0 259.6,77.1ZM156.7,72.0 148.7,71.6 144.7,70.5 141.7,69.2 138.1,66.0 137.4,64.0 137.7,62.0 139.2,60.0 140.7,58.9 144.7,57.7 151.7,56.7 158.7,56.4 164.7,56.7 169.7,57.8 171.9,59.0 172.8,61.0 172.7,64.0 171.8,66.0 169.9,68.0 164.7,70.7 156.7,72.0ZM205.6,271.0 200.6,271.6 195.6,271.3 177.6,267.5 171.7,266.9 166.7,267.6 153.7,271.0 147.7,271.5 142.7,270.6 138.7,268.3 135.7,265.5 131.7,260.4 109.9,228.9 105.0,220.9 100.5,210.9 95.9,197.9 93.4,189.0 92.6,182.0 93.4,177.0 94.7,175.1 96.2,174.0 99.7,172.7 109.7,170.6 114.1,169.0 118.7,166.0 126.6,159.0 131.7,155.3 137.7,152.4 143.7,150.6 153.7,149.9 158.7,150.6 161.7,151.7 163.7,153.0 165.5,155.0 170.7,163.1 172.9,165.0 175.6,166.2 178.6,166.9 182.6,166.9 186.6,166.0 190.6,164.3 194.0,162.0 196.4,159.0 197.7,155.0 197.5,152.0 196.6,150.0 194.6,147.8 185.6,143.0 182.9,141.0 181.4,138.0 181.9,134.0 185.3,129.0 192.6,123.2 200.6,119.0 206.6,117.9 209.6,118.5 211.6,119.7 213.6,121.9 218.6,129.2 221.6,131.6 224.6,132.8 232.6,133.6 249.6,131.7 257.6,131.6 265.6,132.8 271.6,135.3 273.9,138.0 276.0,144.0 277.2,152.0 277.6,162.0 277.0,173.0 274.3,195.9 273.8,225.9 272.6,233.2 270.6,237.9 266.6,242.4 261.6,245.1 255.6,246.7 240.7,248.9 233.6,251.3 228.2,254.9 215.6,266.5 210.6,269.4 205.6,271.0Z"/>
<path fill="rgb(255, 192, 4)" fill-rule="evenodd" d="M262.6,74.2 256.6,74.1 254.6,73.4 252.9,72.0 251.8,70.0 251.4,68.0 251.7,65.0 252.9,62.0 255.1,59.0 259.8,57.0 266.6,56.3 270.6,56.7 272.6,57.4 273.8,59.0 274.0,62.0 273.6,65.9 272.6,68.6 271.5,70.0 268.6,72.1 262.6,74.2ZM158.7,69.0 152.7,69.0 147.7,67.6 145.7,66.5 144.2,65.0 143.8,64.0 144.1,62.0 145.8,60.0 147.5,59.0 151.8,58.0 160.7,57.7 163.9,58.0 167.1,59.0 168.0,60.0 168.8,62.0 167.7,65.0 165.7,66.8 163.7,67.8 158.7,69.0ZM206.6,269.0 201.6,269.8 195.6,269.7 189.6,268.6 177.6,265.6 171.7,264.9 166.7,265.6 153.7,269.0 147.7,269.5 142.7,268.4 138.7,266.1 135.7,263.2 131.7,258.2 113.3,231.9 106.1,219.9 101.7,208.9 98.0,195.9 97.0,188.0 97.3,185.0 98.3,182.0 99.7,179.9 102.7,177.8 114.2,174.0 118.7,171.8 121.7,169.4 128.2,162.0 132.7,158.0 138.2,155.0 143.7,153.4 150.7,153.3 154.1,154.0 156.7,155.1 160.2,158.0 166.2,167.0 168.7,169.0 171.7,170.2 176.6,170.9 181.6,170.6 187.6,169.0 192.1,167.0 197.4,163.0 200.4,159.0 202.4,154.0 202.7,149.0 201.9,146.0 200.6,144.0 192.8,139.0 190.5,137.0 189.4,135.0 189.4,133.0 190.6,130.3 192.9,128.0 195.9,126.0 199.6,124.3 203.6,123.9 206.6,124.8 209.2,127.0 214.6,133.4 217.6,135.0 220.6,135.7 230.6,136.0 247.6,133.6 255.6,133.0 262.6,133.6 268.6,135.3 272.6,137.9 274.6,141.5 276.4,149.0 277.2,159.0 276.6,172.5 273.7,195.9 273.1,223.9 272.4,228.9 270.7,233.9 269.1,236.9 266.6,239.8 261.6,243.0 255.6,244.8 239.6,247.6 231.6,250.6 226.6,254.2 214.8,264.9 210.6,267.4 206.6,269.0Z"/>
<path fill="rgb(255, 183, 0)" fill-rule="evenodd" d="M264.6,71.1 259.6,71.2 256.6,69.8 255.1,67.0 255.6,63.0 257.6,59.9 261.0,58.0 266.6,57.4 270.7,58.0 272.2,59.0 272.6,60.1 272.6,64.0 271.9,66.0 269.1,69.0 264.6,71.1ZM158.7,63.5 156.7,63.8 154.8,63.0 155.1,62.0 157.7,61.3 159.7,62.0 159.6,63.0 158.7,63.5ZM203.6,267.9 198.6,268.3 193.6,267.8 177.6,263.6 172.6,262.8 167.7,263.3 155.7,266.6 149.7,267.5 143.7,266.7 138.7,263.9 132.7,257.5 120.7,240.9 113.3,229.9 108.2,220.9 104.0,209.9 101.4,198.9 101.0,191.0 102.5,186.0 104.7,183.3 107.7,181.5 121.7,177.3 125.7,175.2 127.7,172.8 130.9,166.0 132.9,163.0 136.0,160.0 140.7,157.6 143.7,156.9 147.7,156.9 150.7,157.6 153.1,159.0 155.2,161.0 156.5,163.0 160.2,172.0 162.7,174.2 165.0,175.0 168.7,175.3 177.6,174.6 183.6,173.2 189.6,171.0 194.6,168.2 198.6,165.1 201.5,162.0 204.1,158.0 209.6,144.5 211.6,142.1 213.6,141.0 218.6,139.7 252.6,134.6 261.6,134.9 268.8,137.0 272.6,139.6 274.6,143.7 276.1,151.0 276.8,161.0 276.1,173.0 272.9,195.9 272.3,221.9 271.3,227.9 269.4,232.9 265.6,238.1 260.6,241.4 254.6,243.3 238.6,246.3 231.6,248.9 225.7,252.9 213.6,263.7 208.6,266.4 203.6,267.9Z"/>
<path fill="rgb(255, 174, 0)" fill-rule="evenodd" d="M265.6,67.1 263.6,67.4 261.4,67.0 260.2,66.0 259.8,64.0 260.5,62.0 261.6,60.8 263.6,59.7 265.6,59.3 268.3,60.0 269.5,62.0 268.6,65.0 265.6,67.1ZM204.6,266.0 199.6,266.6 193.6,266.1 177.6,261.5 172.6,260.6 167.7,261.1 155.7,264.6 150.7,265.5 144.7,265.0 139.7,262.6 133.7,256.7 124.7,244.8 115.8,231.9 110.1,221.9 106.8,212.9 104.8,203.9 104.4,195.9 105.7,190.8 107.7,188.1 110.7,186.1 114.7,184.8 118.7,184.4 125.7,184.7 139.6,188.0 144.7,188.7 150.7,188.8 156.0,188.0 159.7,186.4 168.7,181.3 186.6,174.9 195.8,170.0 199.6,167.0 203.6,162.6 212.7,148.0 215.6,145.2 218.6,143.4 227.6,140.7 250.6,136.2 260.6,136.2 264.6,136.9 268.6,138.4 272.6,141.4 274.3,145.0 275.8,152.0 276.4,161.0 275.6,173.3 272.0,196.9 271.2,220.9 270.3,225.9 268.6,230.9 265.2,235.9 260.6,239.4 254.6,241.6 238.6,244.9 231.6,247.3 225.6,251.1 212.6,262.3 208.6,264.6 204.6,266.0ZM144.7,169.1 141.7,169.1 140.4,168.0 140.2,166.0 141.7,163.9 144.7,163.4 146.0,164.0 146.8,165.0 146.7,167.4 144.7,169.1Z"/>
<path fill="rgb(255, 164, 0)" fill-rule="evenodd" d="M200.6,264.9 196.6,264.9 191.6,264.0 177.6,259.3 172.6,258.2 167.7,258.8 156.7,262.4 150.7,263.5 144.7,263.1 139.7,260.7 133.7,254.8 124.7,243.2 117.0,231.9 112.0,222.9 109.1,214.9 107.5,206.9 107.3,199.9 108.7,194.9 110.7,192.4 112.7,190.9 115.7,189.8 119.7,189.3 125.7,189.6 150.7,192.9 157.6,192.9 161.7,192.1 164.7,190.6 174.6,183.2 190.6,175.4 198.6,170.2 205.6,163.1 214.6,150.1 217.6,147.4 221.6,145.0 226.8,143.0 235.6,140.6 250.6,137.7 260.6,137.6 264.6,138.4 268.6,140.0 272.6,143.3 274.2,147.0 275.6,154.8 275.9,163.0 274.7,176.0 271.1,196.9 270.0,220.9 268.6,226.8 266.8,230.9 263.6,235.0 259.5,237.9 253.6,240.2 238.6,243.5 231.6,245.8 224.8,249.9 214.6,258.8 210.6,261.7 205.6,264.0 200.6,264.9Z"/>
<path fill="rgb(255, 154, 0)" fill-rule="evenodd" d="M202.6,263.0 197.6,263.3 191.6,262.3 176.6,256.4 172.6,255.4 168.7,255.9 156.7,260.4 150.7,261.6 144.7,261.2 139.7,258.7 134.7,254.1 126.7,244.3 119.4,233.9 114.3,224.9 111.5,217.9 110.0,210.9 109.8,203.9 111.1,198.9 112.7,196.6 115.7,194.4 118.7,193.5 122.7,193.0 134.7,193.6 160.7,197.1 165.7,196.9 168.7,195.1 173.7,189.0 178.3,185.0 193.6,175.9 200.6,170.7 206.6,164.5 216.1,152.0 219.4,149.0 222.6,146.9 227.6,144.6 234.6,142.4 249.6,139.2 259.6,138.9 263.6,139.6 267.6,141.1 271.6,144.0 273.6,147.6 275.0,154.0 275.4,163.0 274.3,175.0 270.2,195.9 268.8,219.9 267.7,224.9 266.1,228.9 262.6,233.6 258.6,236.5 252.6,238.9 236.6,242.6 230.3,244.9 223.7,248.9 210.6,259.7 206.6,261.8 202.6,263.0Z"/>
<path fill="rgb(255, 139, 0)" fill-rule="evenodd" d="M203.6,261.0 197.6,261.5 191.6,260.4 185.4,257.9 175.6,252.7 172.6,252.0 169.7,252.5 157.7,257.9 151.7,259.6 145.7,259.5 140.7,257.5 135.7,253.4 128.7,245.3 121.2,234.9 116.0,225.9 113.3,218.9 112.0,211.9 112.1,205.9 113.7,201.3 115.7,198.9 118.7,197.0 122.7,196.0 127.7,195.6 135.7,195.9 144.7,197.0 152.7,198.6 158.7,200.4 164.7,203.3 168.7,206.9 170.3,209.9 172.6,221.0 173.6,223.0 174.6,223.9 175.6,224.0 177.1,221.9 177.5,218.9 176.6,214.4 174.2,206.9 173.8,202.9 174.6,196.9 176.6,191.9 178.8,189.0 181.9,186.0 196.6,176.0 202.6,171.0 207.4,166.0 215.2,156.0 218.9,152.0 223.6,148.5 228.6,146.1 236.6,143.4 245.6,141.2 252.6,140.2 258.6,140.2 263.6,141.0 267.6,142.7 271.6,145.9 273.5,150.0 274.7,156.0 274.9,164.0 273.6,175.9 269.3,194.9 267.7,218.9 266.6,223.9 264.8,227.9 261.6,232.2 257.6,235.2 251.6,237.6 235.6,241.5 229.3,243.9 222.7,247.9 210.6,257.8 206.8,259.9 203.6,261.0Z"/>
<path fill="rgb(255, 123, 0)" fill-rule="evenodd" d="M203.6,259.2 200.6,259.8 196.6,259.6 192.6,258.8 188.6,257.2 181.8,252.9 175.6,246.9 173.6,245.6 171.7,246.2 161.2,253.9 154.7,256.9 150.7,257.8 147.7,257.9 143.7,257.1 140.7,255.7 135.7,251.6 128.7,243.7 122.4,234.9 117.8,226.9 115.0,219.9 113.9,213.9 114.2,207.9 115.5,203.9 117.7,201.3 120.7,199.4 124.7,198.2 130.7,197.7 138.7,198.0 145.7,199.1 151.7,200.6 157.4,202.9 161.7,205.9 164.9,209.9 166.9,214.9 171.7,232.8 173.6,236.2 174.6,236.6 175.6,236.2 177.6,234.1 179.6,230.8 182.0,223.9 182.0,216.9 179.2,203.9 178.9,198.9 180.2,192.9 183.8,188.0 202.6,173.1 207.6,167.9 218.6,154.7 222.6,151.2 226.3,149.0 237.6,144.5 249.6,141.8 254.6,141.4 259.6,141.7 263.6,142.5 266.6,143.8 270.6,146.9 272.6,149.8 274.0,156.0 274.4,164.0 272.9,176.0 268.4,193.9 266.4,218.9 265.4,222.9 263.6,226.9 260.6,230.9 256.5,233.9 250.6,236.4 235.6,240.2 228.6,242.8 221.6,246.9 209.6,256.4 203.6,259.2Z"/>
<path fill="rgb(255, 108, 0)" fill-rule="evenodd" d="M199.6,257.9 193.3,256.9 187.3,253.9 183.1,249.9 180.9,244.9 180.9,239.9 184.3,227.9 185.2,222.9 185.0,216.9 182.3,200.9 182.7,195.9 184.3,191.9 188.3,187.0 204.8,173.0 219.6,156.0 226.6,150.6 231.6,148.1 237.5,146.0 249.6,143.2 254.6,142.8 259.6,143.1 263.6,144.0 266.6,145.4 270.6,149.0 272.6,152.6 273.6,158.0 273.7,165.0 272.6,173.8 267.5,192.9 265.2,217.9 264.2,221.9 262.4,225.9 259.3,229.9 254.6,233.2 248.6,235.6 234.6,239.2 228.6,241.3 221.6,245.2 207.6,255.6 203.6,257.3 199.6,257.9ZM148.7,256.0 144.7,255.6 141.7,254.4 135.7,249.9 126.7,239.4 119.5,227.9 116.4,219.9 115.7,215.9 115.7,211.9 116.2,208.9 117.4,205.9 118.9,203.9 121.7,201.9 126.7,200.2 132.7,199.6 140.7,200.0 147.7,201.4 153.7,203.6 157.6,205.9 160.7,208.9 163.3,212.9 165.6,219.9 167.8,231.9 168.3,237.9 167.5,242.9 164.6,247.9 160.1,251.9 154.7,254.7 148.7,256.0Z"/>
<path fill="rgb(255, 97, 0)" fill-rule="evenodd" d="M204.6,255.0 201.6,255.8 198.6,255.9 192.6,254.3 187.9,250.9 186.3,248.9 185.0,245.9 184.6,239.9 187.1,227.9 187.7,221.9 185.3,199.9 185.8,195.9 187.3,191.9 191.4,187.0 206.6,173.0 220.6,157.1 227.6,151.7 237.6,147.3 249.6,144.5 258.6,144.3 262.6,145.2 265.6,146.6 268.7,149.0 271.6,153.1 272.9,158.0 273.0,165.0 271.7,174.0 266.7,191.9 264.3,215.9 263.1,220.9 261.6,224.3 258.0,228.9 253.6,232.0 248.6,234.1 233.6,238.1 226.3,240.9 219.4,244.9 208.6,252.9 204.6,255.0ZM149.7,254.0 145.7,253.9 142.7,253.1 139.7,251.5 136.7,249.2 128.3,239.9 121.2,228.9 118.0,220.9 117.4,216.9 117.4,212.9 118.1,209.9 119.6,206.9 121.4,204.9 123.7,203.5 127.7,202.0 133.7,201.3 140.7,201.6 146.7,202.8 151.7,204.7 155.7,207.2 158.7,210.0 161.3,213.9 163.5,219.9 165.0,227.9 165.5,234.9 164.8,240.9 162.7,245.9 159.7,249.3 154.7,252.5 149.7,254.0Z"/>
<path fill="rgb(255, 85, 0)" fill-rule="evenodd" d="M203.6,253.1 198.6,253.6 193.5,251.9 190.1,248.9 188.9,246.9 187.9,243.9 187.8,238.9 189.6,227.0 190.0,221.9 188.0,204.9 187.9,199.9 188.5,195.9 190.1,191.9 193.2,188.0 206.6,174.9 220.6,159.1 224.6,155.5 228.6,152.8 238.6,148.4 249.6,145.8 254.6,145.5 258.6,145.8 261.6,146.4 265.1,148.0 268.6,151.0 271.0,155.0 272.2,160.0 272.2,165.0 271.1,172.0 265.6,191.9 263.0,215.9 261.9,219.9 260.1,223.9 256.8,227.9 252.5,230.9 246.6,233.3 232.6,237.1 225.6,239.7 218.6,243.6 207.6,251.3 203.6,253.1ZM149.7,252.0 145.7,252.1 142.7,251.3 139.7,249.8 136.7,247.5 128.8,238.9 122.4,228.9 119.4,220.9 119.0,216.9 119.1,213.9 120.9,208.9 122.7,206.9 125.6,204.9 129.7,203.6 134.7,202.9 140.7,203.2 145.7,204.2 150.1,205.9 153.7,208.0 156.8,210.9 159.6,214.9 161.5,219.9 163.0,226.9 163.3,233.9 162.5,239.9 160.9,243.9 157.8,247.9 153.7,250.7 149.7,252.0Z"/>
<path fill="rgb(255, 74, 0)" fill-rule="evenodd" d="M201.6,251.1 197.6,250.7 194.4,248.9 192.0,245.9 190.8,241.9 190.7,237.9 192.1,221.9 190.2,200.9 191.0,195.9 192.7,191.9 195.7,188.0 207.6,175.7 220.6,161.1 225.1,157.0 229.6,153.8 238.6,149.7 249.6,147.1 257.6,147.1 261.6,148.0 264.6,149.5 267.6,152.1 270.0,156.0 271.0,160.0 271.2,165.0 270.0,172.0 264.6,191.9 261.8,214.9 260.6,219.4 258.9,222.9 255.6,226.9 250.6,230.3 245.6,232.3 231.6,236.1 224.6,238.6 218.2,241.9 206.6,249.4 201.6,251.1ZM149.7,249.9 146.7,250.3 143.7,249.9 140.7,248.7 137.7,246.7 130.7,239.6 124.2,229.9 121.3,222.9 120.6,218.9 120.6,215.9 121.3,212.9 122.7,210.1 124.7,208.0 126.7,206.7 130.7,205.2 134.7,204.6 139.7,204.7 144.7,205.6 148.7,207.1 152.7,209.5 155.7,212.4 158.0,215.9 160.0,220.9 161.2,226.9 161.4,232.9 160.8,237.9 159.4,241.9 156.7,245.9 153.7,248.3 149.7,249.9Z"/>
<path fill="rgb(255, 62, 0)" fill-rule="evenodd" d="M202.6,248.0 199.6,247.9 196.6,246.2 194.6,243.4 193.7,239.9 194.2,221.9 192.4,201.9 193.1,196.9 195.1,191.9 198.9,187.0 220.6,163.0 225.6,158.3 230.3,155.0 239.0,151.0 248.6,148.6 256.6,148.4 260.6,149.3 263.6,150.7 266.6,153.2 268.9,157.0 269.9,161.0 269.9,166.0 268.7,173.0 263.5,191.9 260.6,214.4 259.3,218.9 257.8,221.9 254.4,225.9 248.6,229.6 223.6,237.5 217.6,240.3 206.6,246.7 202.6,248.0ZM148.7,248.1 145.7,248.3 142.7,247.8 137.7,245.0 130.7,237.8 125.0,228.9 122.4,221.9 122.4,215.9 123.3,212.9 124.6,210.9 128.5,207.9 131.7,206.8 135.7,206.2 140.7,206.3 144.7,207.2 148.7,208.9 151.7,210.9 154.7,213.9 156.7,217.0 158.6,221.9 159.5,226.9 159.6,231.9 159.0,236.9 157.5,240.9 155.5,243.9 152.7,246.4 148.7,248.1Z"/>
<path fill="rgb(255, 51, 0)" fill-rule="evenodd" d="M205.6,244.0 202.6,244.4 199.6,243.4 197.7,240.9 196.6,236.9 196.2,221.9 194.5,202.9 195.3,196.9 198.0,191.0 201.9,186.0 221.5,164.0 226.6,159.2 231.3,156.0 239.6,152.1 248.6,150.0 256.6,149.9 259.6,150.6 262.6,151.9 265.6,154.5 267.6,157.8 268.6,161.5 268.7,166.0 267.5,173.0 262.4,191.9 259.6,212.9 258.5,216.9 256.6,220.9 252.6,225.5 247.6,228.5 241.6,230.8 223.5,235.9 205.6,244.0ZM148.7,246.0 145.7,246.4 142.7,246.0 137.7,243.3 131.7,237.3 126.8,229.9 124.3,223.9 123.8,217.9 124.5,214.9 125.6,212.9 127.4,210.9 129.7,209.5 132.7,208.3 136.7,207.7 140.7,207.9 144.7,208.9 147.7,210.2 150.7,212.2 153.3,214.9 155.3,217.9 156.9,221.9 157.8,226.9 157.9,231.9 157.2,235.9 155.7,239.9 153.7,242.8 151.7,244.5 148.7,246.0Z"/>
<path fill="rgb(255, 39, 0)" fill-rule="evenodd" d="M206.6,240.1 203.6,240.0 201.6,238.9 199.9,235.9 199.1,231.9 196.7,208.9 196.5,202.9 197.4,196.9 200.1,191.0 204.7,185.0 220.6,166.7 226.6,161.0 231.6,157.3 239.6,153.5 248.6,151.4 255.6,151.3 258.6,151.9 261.6,153.3 264.6,155.9 266.4,159.0 267.4,163.0 267.3,167.0 266.3,173.0 261.4,191.0 258.4,211.9 257.3,215.9 255.4,219.9 251.6,224.3 245.5,227.9 239.8,229.9 223.6,234.3 206.6,240.1ZM147.7,244.0 145.7,244.4 142.7,244.1 137.7,241.5 132.2,235.9 127.7,228.9 125.6,222.9 125.6,217.9 127.3,213.9 130.9,210.9 136.7,209.4 140.7,209.5 143.7,210.2 146.7,211.5 149.7,213.5 152.0,215.9 153.9,218.9 155.5,222.9 156.1,226.9 156.2,230.9 155.5,234.9 154.4,237.9 152.7,240.7 150.7,242.6 147.7,244.0Z"/>
<path fill="rgb(255, 28, 0)" fill-rule="evenodd" d="M209.6,236.1 205.6,235.6 203.6,234.1 202.1,230.9 201.2,226.9 198.9,211.9 198.4,203.9 199.4,196.9 202.1,191.0 207.3,184.0 220.6,168.6 226.6,162.6 231.6,158.9 239.6,155.0 247.6,152.9 254.6,152.7 257.6,153.4 260.6,154.7 263.3,157.0 265.1,160.0 266.0,164.0 265.9,168.0 264.8,174.0 260.3,191.0 257.3,210.9 256.1,214.9 254.2,218.9 251.9,221.9 249.7,223.9 243.6,227.2 236.6,229.4 209.6,236.1ZM146.7,242.0 142.7,242.1 140.7,241.5 137.7,239.6 132.7,234.5 128.7,227.9 127.1,222.9 127.2,218.9 129.1,214.9 132.7,212.2 137.7,211.0 140.7,211.2 143.7,211.9 148.8,214.9 150.7,216.9 152.7,220.1 153.7,222.9 154.4,226.9 153.8,233.9 151.3,238.9 149.1,240.9 146.7,242.0Z"/>
<path fill="rgb(255, 16, 0)" fill-rule="evenodd" d="M218.6,232.0 212.6,232.7 208.6,232.2 205.6,230.0 204.1,226.9 201.4,215.9 200.3,205.9 200.9,198.9 203.5,191.9 208.3,185.0 219.6,171.6 226.0,165.0 231.6,160.5 238.6,156.8 246.6,154.5 253.6,154.3 258.6,155.6 261.6,157.8 263.6,161.0 264.4,164.0 264.4,168.0 263.4,174.0 259.1,191.0 256.3,208.9 253.6,216.9 249.7,221.9 243.6,225.7 235.6,228.3 218.6,232.0ZM144.7,240.1 140.7,239.4 136.7,236.8 132.7,232.2 129.8,226.9 128.8,222.9 129.2,218.9 130.9,215.9 134.7,213.5 139.7,212.8 144.7,214.2 148.7,217.2 151.6,221.9 152.7,227.9 151.7,233.9 150.7,236.1 148.7,238.4 146.7,239.6 144.7,240.1Z"/>
<path fill="rgb(255, 5, 0)" fill-rule="evenodd" d="M217.6,230.0 212.6,229.8 209.6,228.6 207.0,225.9 204.8,220.9 202.7,211.9 202.2,203.9 203.0,197.9 205.3,191.9 210.0,185.0 220.1,173.0 226.6,166.2 232.6,161.5 239.6,157.9 246.6,156.1 252.6,155.8 257.6,157.3 260.0,159.0 262.0,162.0 262.8,165.0 262.8,169.0 261.8,175.0 257.8,191.0 255.2,207.9 252.4,215.9 248.4,220.9 245.6,223.0 241.6,225.0 230.6,228.0 217.6,230.0ZM145.7,237.3 142.7,237.7 138.7,236.1 135.2,232.9 132.5,228.9 131.0,224.9 130.8,220.9 132.2,217.9 134.7,215.8 138.7,214.8 142.7,215.4 146.7,217.9 149.1,220.9 150.7,225.9 150.4,230.9 148.7,234.9 145.7,237.3Z"/>
<path fill="rgb(248, 0, 0)" fill-rule="evenodd" d="M227.6,227.1 219.6,227.8 214.6,227.3 211.5,225.9 208.6,223.0 205.7,215.9 204.2,207.9 204.3,200.9 206.2,193.9 209.6,188.0 216.6,178.9 224.6,170.0 231.6,163.9 237.6,160.4 244.6,158.0 250.6,157.5 255.6,158.5 258.6,160.6 260.2,163.0 261.0,166.0 261.1,170.0 260.3,175.0 256.5,191.0 254.2,205.9 252.1,212.9 249.1,217.9 244.4,221.9 237.6,224.9 227.6,227.1ZM143.7,235.0 140.7,234.7 137.9,232.9 135.7,230.6 133.6,226.9 132.9,223.9 133.3,220.9 134.6,218.9 136.7,217.6 139.7,217.0 142.7,217.7 145.7,219.8 147.7,222.9 148.6,226.9 147.9,230.9 145.8,233.9 143.7,235.0Z"/>
<path fill="rgb(237, 0, 0)" fill-rule="evenodd" d="M230.6,225.0 223.6,225.8 217.6,225.4 213.6,223.8 210.6,221.1 207.6,215.0 206.2,207.9 206.2,200.9 207.7,194.9 210.7,189.0 216.6,181.0 224.6,171.9 231.2,166.0 236.6,162.6 242.6,160.2 248.6,159.3 253.6,160.0 256.6,161.8 258.2,164.0 259.1,167.0 259.3,170.0 258.6,176.0 255.4,190.0 252.9,204.9 251.6,209.9 248.6,215.9 244.5,219.9 238.6,223.0 230.6,225.0ZM143.7,231.2 141.7,231.6 139.7,231.0 136.8,227.9 135.7,223.9 136.2,221.9 137.7,220.5 139.7,219.9 141.7,220.2 143.7,221.5 144.8,222.9 145.7,225.3 145.7,227.9 144.9,229.9 143.7,231.2Z"/>
<path fill="rgb(225, 0, 0)" fill-rule="evenodd" d="M232.6,223.0 226.6,223.8 220.6,223.6 215.7,221.9 212.6,219.4 209.6,214.0 208.2,207.9 208.0,201.9 209.2,195.9 211.9,190.0 216.8,183.0 223.6,174.9 230.6,168.3 235.6,164.9 241.6,162.3 246.6,161.3 251.6,161.8 254.0,163.0 255.9,165.0 257.0,168.0 257.3,171.0 256.7,177.0 250.6,207.9 247.9,213.9 244.3,217.9 239.4,220.9 232.6,223.0Z"/>
<path fill="rgb(214, 0, 0)" fill-rule="evenodd" d="M227.6,221.9 222.6,221.7 218.6,220.6 215.6,218.7 212.6,215.0 210.7,209.9 209.9,204.9 210.3,198.9 211.7,193.9 215.0,188.0 219.6,181.6 225.6,174.9 231.6,169.5 236.6,166.3 241.6,164.3 246.6,163.5 250.6,164.2 252.6,165.5 254.4,168.0 255.1,171.0 255.2,174.0 250.8,200.9 248.6,208.8 245.6,214.1 241.4,217.9 234.6,220.9 227.6,221.9Z"/>
<path fill="rgb(202, 0, 0)" fill-rule="evenodd" d="M228.6,220.0 224.6,219.8 220.6,218.8 217.5,216.9 214.6,213.5 212.7,208.9 211.9,203.9 212.2,198.9 213.6,193.9 216.2,189.0 220.6,182.8 226.6,176.1 231.6,171.6 235.7,169.0 240.6,166.8 244.6,166.1 248.6,166.7 250.6,167.9 252.0,170.0 252.8,173.0 252.9,176.0 249.6,198.6 247.5,206.9 244.6,212.4 240.6,216.2 234.8,218.9 228.6,220.0Z"/>
<path fill="rgb(191, 0, 0)" fill-rule="evenodd" d="M234.6,217.0 229.6,217.9 225.6,217.7 221.6,216.5 218.2,213.9 215.6,210.1 214.3,205.9 214.0,201.9 214.7,196.9 216.5,191.9 219.5,187.0 224.2,181.0 229.2,176.0 233.6,172.5 237.6,170.3 241.6,169.1 245.6,169.2 247.6,170.1 249.3,172.0 250.5,177.0 250.0,185.0 247.5,200.9 245.6,206.9 242.6,211.8 239.0,214.9 234.6,217.0Z"/>
<path fill="rgb(179, 0, 0)" fill-rule="evenodd" d="M233.6,215.0 229.6,215.6 225.6,215.2 222.6,214.0 220.0,211.9 217.9,208.9 216.6,204.9 216.3,200.9 216.8,196.9 218.1,192.9 220.6,188.4 224.6,183.1 228.6,178.9 232.6,175.7 236.6,173.4 240.6,172.3 243.6,172.4 245.6,173.5 246.6,174.6 248.0,179.0 247.7,187.0 245.8,199.9 243.9,205.9 241.4,209.9 238.1,212.9 233.6,215.0Z"/>
<path fill="rgb(168, 0, 0)" fill-rule="evenodd" d="M230.6,213.0 227.6,212.8 224.6,211.8 222.1,209.9 220.5,207.9 219.3,204.9 218.7,201.9 218.8,198.9 219.6,195.0 223.3,188.0 229.6,180.8 235.6,176.8 238.6,176.0 241.6,176.2 243.6,177.6 244.5,179.0 245.4,183.0 245.1,191.9 243.5,200.9 241.4,205.9 238.6,209.5 234.6,212.1 230.6,213.0Z"/>
<path fill="rgb(156, 0, 0)" fill-rule="evenodd" d="M230.6,210.0 226.2,208.9 223.1,205.9 222.1,203.9 221.5,200.9 221.9,195.9 224.6,190.0 229.6,184.0 234.6,180.7 238.6,180.2 241.2,182.0 242.6,186.0 242.6,192.9 241.6,198.9 239.7,203.9 237.6,206.7 234.6,209.0 230.6,210.0Z"/>
<path fill="rgb(145, 0, 0)" fill-rule="evenodd" d="M231.6,206.0 228.6,205.5 225.9,202.9 224.9,199.9 225.2,195.9 226.8,191.9 229.9,188.0 233.6,185.5 236.6,185.4 238.4,187.0 239.4,190.0 239.5,193.9 238.9,197.9 237.6,201.2 235.6,203.9 233.6,205.3 231.6,206.0Z"/>
<path fill="rgb(133, 0, 0)" fill-rule="evenodd" d="M232.6,196.3 232.3,195.9 232.6,195.6 232.6,196.3Z"/>
<path fill="none" stroke="#000" stroke-width="0.9" d="M278.6,188.1 278.0,199.9 278.1,226.9 277.4,239.9 276.6,246.6 275.2,252.9 273.6,257.2 271.6,259.7 267.6,261.9 263.6,263.3 248.3,265.9 242.8,267.9 238.6,271.1 229.6,281.6 225.6,284.1 220.6,285.7 213.6,286.4 205.6,286.2 181.6,282.1 173.6,281.7 166.7,283.1 151.7,288.7 144.7,289.8 141.7,289.6 138.7,288.8 133.7,285.5 130.7,281.9 128.7,278.5 121.2,259.9 117.1,251.9 110.7,243.2 99.0,230.9 94.3,224.9 70.7,181.7 69.4,177.0 68.6,171.0 68.4,165.0 68.8,159.0 70.7,150.9 77.2,136.0 78.2,132.0 78.3,129.0 76.4,123.0 70.7,114.1 68.7,109.0 66.7,99.0 66.2,89.0 66.5,77.0 67.7,67.5 69.7,61.4 72.0,59.0 75.7,58.0 83.7,57.2 117.7,56.1 129.8,54.0M181.6,54.0 186.7,56.0 189.4,58.0 191.0,61.0 192.2,66.0 192.5,72.0 191.5,76.0 189.5,79.0 185.6,81.3 179.6,82.9 171.7,84.2 158.7,85.6 148.7,86.1 139.7,85.6 122.7,82.1 115.7,81.5 110.7,82.5 105.7,85.7 101.2,91.0 97.4,98.0 94.0,107.0 90.4,119.0 89.4,124.0 89.5,127.0 90.3,130.0 93.1,134.0 97.4,138.0 102.7,141.4 106.7,143.0 111.7,143.6 119.7,142.3 135.7,137.8 144.7,134.8 151.7,131.7 158.7,127.5 173.6,117.2 185.3,108.0 191.6,101.0 198.4,89.0 201.6,85.4 221.6,73.6 228.6,67.7 237.6,58.0 240.9,56.0 246.1,54.0M277.3,54.0 278.6,56.3M278.6,69.8 277.0,77.0 274.6,82.2 272.6,84.6 260.8,92.0 256.1,96.0 253.7,99.0 252.1,102.0 251.2,105.0 250.9,108.0 251.8,112.0 253.1,114.0 255.3,116.0 259.6,118.4 271.6,123.6 273.6,125.1 276.6,130.3 278.6,137.9M83.7,328.0 78.7,328.5 74.5,327.9 71.7,326.8 70.7,325.9 69.7,323.7 68.9,316.9 69.7,308.5 70.7,305.5 71.7,304.2 75.7,301.9 78.7,301.3 81.7,301.4 87.7,303.2 92.8,306.9 94.7,309.3 95.9,311.9 96.3,316.9 95.3,319.9 94.1,321.9 89.7,325.7 83.7,328.0"/>
<path fill="none" stroke="#000" stroke-width="0.9" d="M202.6,263.0 197.6,263.3 191.6,262.3 176.6,256.4 172.6,255.4 168.7,255.9 156.7,260.4 150.7,261.6 144.7,261.2 139.7,258.7 134.7,254.1 126.7,244.3 119.4,233.9 114.3,224.9 111.5,217.9 110.0,210.9 109.8,203.9 111.1,198.9 112.7,196.6 115.7,194.4 118.7,193.5 122.7,193.0 134.7,193.6 160.7,197.1 165.7,196.9 168.7,195.1 173.7,189.0 178.3,185.0 193.6,175.9 200.6,170.7 206.6,164.5 216.1,152.0 219.4,149.0 222.6,146.9 227.6,144.6 234.6,142.4 249.6,139.2 259.6,138.9 263.6,139.6 267.6,141.1 271.6,144.0 273.6,147.6 275.0,154.0 275.4,163.0 274.3,175.0 270.2,195.9 268.8,219.9 267.7,224.9 266.1,228.9 262.6,233.6 258.6,236.5 252.6,238.9 236.6,242.6 230.3,244.9 223.7,248.9 210.6,259.7 206.6,261.8 202.6,263.0"/>
<path fill="none" stroke="#000" stroke-width="0.9" d="M217.6,230.0 212.6,229.8 209.6,228.6 207.0,225.9 204.8,220.9 202.7,211.9 202.2,203.9 203.0,197.9 205.3,191.9 210.0,185.0 220.1,173.0 226.6,166.2 232.6,161.5 239.6,157.9 246.6,156.1 252.6,155.8 257.6,157.3 260.0,159.0 262.0,162.0 262.8,165.0 262.8,169.0 261.8,175.0 257.8,191.0 255.2,207.9 252.4,215.9 248.4,220.9 245.6,223.0 241.6,225.0 230.6,228.0 217.6,230.0M145.7,237.3 142.7,237.7 138.7,236.1 135.2,232.9 132.5,228.9 131.0,224.9 130.8,220.9 132.2,217.9 134.7,215.8 138.7,214.8 142.7,215.4 146.7,217.9 149.1,220.9 150.7,225.9 150.4,230.9 148.7,234.9 145.7,237.3"/>
<path fill="none" stroke="#000" stroke-width="1.55" stroke-linejoin="miter" stroke-miterlimit="2.5" d="M76.63,71.05 L73.87,65.85 L67.66,71.53 L74.30,58.59 L88.74,60.32 L80.56,62.29 L83.33,67.49ZM107.59,70.23 L106.10,65.65 L100.29,69.34 L107.48,59.86 L118.87,63.30 L112.00,63.73 L113.49,68.31ZM137.95,72.10 L133.55,67.22 L128.36,75.04 L132.06,59.24 L148.16,57.22 L139.84,61.56 L144.24,66.44ZM168.27,71.55 L164.74,66.30 L158.74,73.07 L164.38,58.49 L180.01,58.72 L171.49,61.75 L175.03,66.99ZM200.08,69.27 L200.08,65.96 L195.50,67.14 L202.21,62.47 L208.92,67.14 L204.34,65.96 L204.34,69.27ZM229.89,68.50 L231.09,64.04 L224.48,63.97 L235.22,60.10 L242.59,68.82 L236.84,65.58 L235.64,70.04ZM259.38,66.71 L263.90,59.75 L254.01,56.43 L272.04,55.85 L278.84,72.55 L271.78,64.87 L267.26,71.83ZM76.91,102.39 L72.90,97.62 L67.73,104.86 L71.75,90.01 L87.08,88.63 L79.05,92.47 L83.05,97.24ZM109.37,100.49 L108.32,98.68 L106.19,100.77 L108.39,96.09 L113.54,96.53 L110.66,97.33 L111.70,99.14ZM140.15,100.16 L139.62,98.70 L137.78,99.95 L140.00,96.81 L143.72,97.79 L141.50,98.01 L142.04,99.47ZM170.20,100.21 L169.59,97.95 L166.69,99.59 L170.41,95.18 L175.84,97.14 L172.50,97.17 L173.10,99.43ZM199.26,100.89 L197.60,96.32 L191.86,100.25 L198.79,90.42 L210.41,93.50 L203.49,94.17 L205.15,98.75ZM229.22,100.44 L228.24,94.93 L220.96,98.24 L230.77,88.49 L243.31,94.30 L235.34,93.68 L236.31,99.19ZM261.45,99.65 L261.70,96.74 L257.59,97.43 L263.84,93.84 L269.38,98.46 L265.45,97.07 L265.19,99.98ZM77.85,131.35 L76.31,128.05 L72.28,131.36 L76.81,123.56 L85.69,125.10 L80.57,126.06 L82.11,129.37ZM108.66,130.36 L108.66,127.44 L104.62,128.48 L110.54,124.36 L116.46,128.48 L112.42,127.44 L112.42,130.36ZM139.06,130.36 L139.06,127.20 L134.68,128.32 L141.09,123.86 L147.51,128.32 L143.13,127.20 L143.13,130.36ZM168.11,130.55 L167.83,125.05 L160.33,127.41 L171.06,119.08 L182.60,126.24 L174.90,124.68 L175.19,130.18ZM197.79,131.14 L196.59,124.29 L187.53,128.40 L199.72,116.28 L215.32,123.50 L205.41,122.73 L206.62,129.58ZM228.97,131.03 L227.93,125.14 L220.14,128.67 L230.63,118.25 L244.05,124.46 L235.52,123.80 L236.56,129.69ZM259.50,130.90 L258.67,124.97 L250.77,128.23 L261.61,118.18 L274.80,124.86 L266.30,123.90 L267.14,129.82ZM77.23,158.43 L81.07,154.16 L73.80,150.37 L87.87,152.14 L91.10,165.95 L86.57,159.11 L82.73,163.38ZM106.91,161.10 L106.61,155.46 L98.92,157.87 L109.93,149.32 L121.78,156.68 L113.87,155.08 L114.17,160.72ZM136.40,160.66 L136.78,153.37 L126.56,155.44 L141.88,145.93 L156.12,156.99 L146.17,153.86 L145.79,161.15ZM167.61,160.91 L167.61,154.63 L158.92,156.86 L171.65,148.01 L184.38,156.86 L175.69,154.63 L175.69,160.91ZM198.12,162.90 L195.03,156.55 L187.36,163.09 L195.85,147.87 L213.07,150.55 L203.20,152.57 L206.29,158.91ZM228.32,162.44 L222.79,146.36 L214.08,152.11 L224.72,137.55 L242.07,142.47 L231.67,143.30 L237.21,159.38ZM258.63,161.23 L257.47,144.67 L247.58,147.97 L261.63,136.66 L277.11,145.91 L266.85,144.02 L268.01,160.58ZM77.10,190.68 L78.30,186.21 L71.70,186.15 L82.44,182.27 L89.80,191.00 L84.05,187.75 L82.85,192.22ZM105.86,191.94 L105.01,183.89 L95.24,187.53 L108.88,175.74 L124.68,184.43 L114.36,182.90 L115.21,190.96ZM136.40,191.78 L135.84,183.70 L125.95,187.00 L139.99,175.69 L155.47,184.93 L145.22,183.04 L145.78,191.12ZM166.95,191.37 L167.10,182.87 L156.96,185.29 L171.93,175.25 L186.55,185.81 L176.50,183.03 L176.35,191.53ZM197.69,192.75 L193.91,179.58 L184.92,184.86 L196.31,170.88 L213.37,176.70 L202.95,176.99 L206.73,190.15ZM228.14,192.27 L224.35,170.80 L214.86,175.11 L227.64,162.40 L244.01,169.97 L233.61,169.17 L237.39,190.63ZM258.66,192.02 L256.96,178.23 L247.25,182.04 L260.69,170.01 L276.63,178.43 L266.29,177.08 L267.99,190.88ZM78.62,222.78 L77.41,220.67 L74.92,223.10 L77.48,217.66 L83.47,218.17 L80.12,219.10 L81.34,221.21ZM105.92,222.89 L104.45,215.33 L95.03,219.81 L107.60,206.88 L124.09,214.16 L113.68,213.54 L115.15,221.10ZM136.42,222.49 L134.44,203.69 L124.67,207.33 L138.31,195.54 L154.11,204.24 L143.79,202.71 L145.77,221.50ZM167.00,222.65 L165.84,214.43 L156.20,218.41 L169.42,206.15 L185.51,214.29 L175.15,213.12 L176.30,221.34ZM197.74,223.45 L193.32,209.85 L184.52,215.44 L195.41,201.07 L212.67,206.29 L202.26,206.94 L206.68,220.54ZM228.41,223.76 L221.63,206.97 L213.24,213.17 L223.10,198.07 L240.68,202.08 L230.34,203.45 L237.12,220.23ZM258.78,223.21 L256.06,213.07 L246.98,218.19 L258.61,204.41 L275.57,210.53 L265.14,210.64 L267.86,220.78ZM78.70,253.44 L77.30,251.44 L75.04,254.09 L77.11,248.44 L83.12,248.43 L79.87,249.65 L81.26,251.64ZM108.97,253.27 L107.84,250.84 L104.89,253.27 L108.21,247.55 L114.73,248.68 L110.97,249.38 L112.10,251.81ZM136.39,252.54 L136.39,240.94 L126.29,243.54 L141.09,233.24 L155.89,243.54 L145.79,240.94 L145.79,252.54ZM166.95,252.54 L166.95,243.04 L156.85,245.64 L171.65,235.34 L186.45,245.64 L176.35,243.04 L176.35,252.54ZM197.61,251.56 L200.52,237.87 L190.10,238.31 L206.72,231.31 L219.05,244.47 L209.72,239.82 L206.80,253.52ZM229.44,253.43 L228.05,248.26 L221.39,252.02 L229.92,241.91 L242.36,246.40 L234.71,246.48 L236.09,251.65ZM260.20,252.81 L259.78,247.96 L253.22,250.28 L262.45,242.58 L272.88,248.56 L266.02,247.42 L266.44,252.27ZM78.73,284.03 L77.26,282.08 L75.10,284.80 L76.97,279.09 L82.98,278.86 L79.77,280.20 L81.23,282.14ZM109.63,284.16 L107.95,282.76 L106.60,285.58 L107.09,280.19 L112.31,278.78 L109.76,280.60 L111.44,282.00ZM138.08,283.08 L138.08,278.41 L131.62,280.08 L141.09,273.48 L150.56,280.08 L144.10,278.41 L144.10,283.08ZM169.23,283.73 L168.22,279.97 L163.38,282.71 L169.58,275.36 L178.63,278.62 L173.06,278.67 L174.07,282.43ZM199.39,283.08 L199.39,278.70 L193.33,280.26 L202.21,274.08 L211.09,280.26 L205.03,278.70 L205.03,283.08ZM230.34,282.43 L231.35,278.67 L225.79,278.62 L234.83,275.36 L241.04,282.71 L236.19,279.97 L235.19,283.73ZM261.33,282.16 L262.77,279.07 L257.99,278.18 L266.28,276.74 L270.51,284.01 L266.75,280.92 L265.31,284.01ZM76.71,312.75 L78.07,307.68 L70.56,307.60 L82.77,303.20 L91.15,313.12 L84.61,309.43 L83.25,314.50ZM108.58,313.87 L108.20,310.83 L104.13,312.43 L109.77,307.37 L116.46,310.91 L112.12,310.34 L112.50,313.39ZM139.53,313.63 L139.53,311.19 L136.16,312.06 L141.09,308.63 L146.03,312.06 L142.66,311.19 L142.66,313.63ZM170.08,313.63 L170.08,311.19 L166.72,312.06 L171.65,308.63 L176.58,312.06 L173.22,311.19 L173.22,313.63ZM200.59,313.04 L201.50,310.52 L197.70,310.15 L204.09,308.46 L207.90,313.86 L204.74,311.70 L203.83,314.22ZM231.04,313.63 L231.04,310.95 L227.34,311.90 L232.76,308.13 L238.19,311.90 L234.49,310.95 L234.49,313.63ZM261.76,313.76 L261.55,311.34 L258.27,312.50 L262.89,308.65 L268.10,311.64 L264.67,311.07 L264.88,313.49Z"/><path fill="none" stroke="#000" stroke-width="1.55" stroke-linejoin="miter" d="M202.40,236.60 L206.10,247.50 L217.62,247.66 L208.39,254.55 L211.80,265.54 L202.40,258.90 L193.00,265.54 L196.41,254.55 L187.18,247.66 L198.70,247.50Z"/>
<rect x="64.70" y="54.00" width="213.90" height="274.90" fill="none" stroke="#000" stroke-width="2.0"/>
<line x1="64.70" y1="328.90" x2="64.70" y2="331.50" stroke="#000" stroke-width="0.9"/>
<line x1="64.70" y1="54.00" x2="64.70" y2="51.40" stroke="#000" stroke-width="0.9"/>
<line x1="79.98" y1="328.90" x2="79.98" y2="333.90" stroke="#000" stroke-width="0.9"/>
<line x1="79.98" y1="54.00" x2="79.98" y2="49.00" stroke="#000" stroke-width="0.9"/>
<text x="79.98" y="346.40" font-size="12.5" text-anchor="middle">–8</text>
<line x1="95.26" y1="328.90" x2="95.26" y2="331.50" stroke="#000" stroke-width="0.9"/>
<line x1="95.26" y1="54.00" x2="95.26" y2="51.40" stroke="#000" stroke-width="0.9"/>
<line x1="110.54" y1="328.90" x2="110.54" y2="333.90" stroke="#000" stroke-width="0.9"/>
<line x1="110.54" y1="54.00" x2="110.54" y2="49.00" stroke="#000" stroke-width="0.9"/>
<text x="110.54" y="346.40" font-size="12.5" text-anchor="middle">–6</text>
<line x1="125.81" y1="328.90" x2="125.81" y2="331.50" stroke="#000" stroke-width="0.9"/>
<line x1="125.81" y1="54.00" x2="125.81" y2="51.40" stroke="#000" stroke-width="0.9"/>
<line x1="141.09" y1="328.90" x2="141.09" y2="333.90" stroke="#000" stroke-width="0.9"/>
<line x1="141.09" y1="54.00" x2="141.09" y2="49.00" stroke="#000" stroke-width="0.9"/>
<text x="141.09" y="346.40" font-size="12.5" text-anchor="middle">–4</text>
<line x1="156.37" y1="328.90" x2="156.37" y2="331.50" stroke="#000" stroke-width="0.9"/>
<line x1="156.37" y1="54.00" x2="156.37" y2="51.40" stroke="#000" stroke-width="0.9"/>
<line x1="171.65" y1="328.90" x2="171.65" y2="333.90" stroke="#000" stroke-width="0.9"/>
<line x1="171.65" y1="54.00" x2="171.65" y2="49.00" stroke="#000" stroke-width="0.9"/>
<text x="171.65" y="346.40" font-size="12.5" text-anchor="middle">–2</text>
<line x1="186.93" y1="328.90" x2="186.93" y2="331.50" stroke="#000" stroke-width="0.9"/>
<line x1="186.93" y1="54.00" x2="186.93" y2="51.40" stroke="#000" stroke-width="0.9"/>
<line x1="202.21" y1="328.90" x2="202.21" y2="333.90" stroke="#000" stroke-width="0.9"/>
<line x1="202.21" y1="54.00" x2="202.21" y2="49.00" stroke="#000" stroke-width="0.9"/>
<text x="202.21" y="346.40" font-size="12.5" text-anchor="middle">0</text>
<line x1="217.49" y1="328.90" x2="217.49" y2="331.50" stroke="#000" stroke-width="0.9"/>
<line x1="217.49" y1="54.00" x2="217.49" y2="51.40" stroke="#000" stroke-width="0.9"/>
<line x1="232.76" y1="328.90" x2="232.76" y2="333.90" stroke="#000" stroke-width="0.9"/>
<line x1="232.76" y1="54.00" x2="232.76" y2="49.00" stroke="#000" stroke-width="0.9"/>
<text x="232.76" y="346.40" font-size="12.5" text-anchor="middle">2</text>
<line x1="248.04" y1="328.90" x2="248.04" y2="331.50" stroke="#000" stroke-width="0.9"/>
<line x1="248.04" y1="54.00" x2="248.04" y2="51.40" stroke="#000" stroke-width="0.9"/>
<line x1="263.32" y1="328.90" x2="263.32" y2="333.90" stroke="#000" stroke-width="0.9"/>
<line x1="263.32" y1="54.00" x2="263.32" y2="49.00" stroke="#000" stroke-width="0.9"/>
<text x="263.32" y="346.40" font-size="12.5" text-anchor="middle">4</text>
<line x1="278.60" y1="328.90" x2="278.60" y2="331.50" stroke="#000" stroke-width="0.9"/>
<line x1="278.60" y1="54.00" x2="278.60" y2="51.40" stroke="#000" stroke-width="0.9"/>
<line x1="64.70" y1="54.00" x2="62.10" y2="54.00" stroke="#000" stroke-width="0.9"/>
<line x1="64.70" y1="69.27" x2="59.70" y2="69.27" stroke="#000" stroke-width="0.9"/>
<text x="55.90" y="73.57" font-size="12.5" text-anchor="end">–12</text>
<line x1="64.70" y1="84.54" x2="62.10" y2="84.54" stroke="#000" stroke-width="0.9"/>
<line x1="64.70" y1="99.82" x2="59.70" y2="99.82" stroke="#000" stroke-width="0.9"/>
<text x="55.90" y="104.12" font-size="12.5" text-anchor="end">–10</text>
<line x1="64.70" y1="115.09" x2="62.10" y2="115.09" stroke="#000" stroke-width="0.9"/>
<line x1="64.70" y1="130.36" x2="59.70" y2="130.36" stroke="#000" stroke-width="0.9"/>
<text x="55.90" y="134.66" font-size="12.5" text-anchor="end">–8</text>
<line x1="64.70" y1="145.63" x2="62.10" y2="145.63" stroke="#000" stroke-width="0.9"/>
<line x1="64.70" y1="160.91" x2="59.70" y2="160.91" stroke="#000" stroke-width="0.9"/>
<text x="55.90" y="165.21" font-size="12.5" text-anchor="end">–6</text>
<line x1="64.70" y1="176.18" x2="62.10" y2="176.18" stroke="#000" stroke-width="0.9"/>
<line x1="64.70" y1="191.45" x2="59.70" y2="191.45" stroke="#000" stroke-width="0.9"/>
<text x="55.90" y="195.75" font-size="12.5" text-anchor="end">–4</text>
<line x1="64.70" y1="206.72" x2="62.10" y2="206.72" stroke="#000" stroke-width="0.9"/>
<line x1="64.70" y1="221.99" x2="59.70" y2="221.99" stroke="#000" stroke-width="0.9"/>
<text x="55.90" y="226.29" font-size="12.5" text-anchor="end">–2</text>
<line x1="64.70" y1="237.27" x2="62.10" y2="237.27" stroke="#000" stroke-width="0.9"/>
<line x1="64.70" y1="252.54" x2="59.70" y2="252.54" stroke="#000" stroke-width="0.9"/>
<text x="55.90" y="256.84" font-size="12.5" text-anchor="end">0</text>
<line x1="64.70" y1="267.81" x2="62.10" y2="267.81" stroke="#000" stroke-width="0.9"/>
<line x1="64.70" y1="283.08" x2="59.70" y2="283.08" stroke="#000" stroke-width="0.9"/>
<text x="55.90" y="287.38" font-size="12.5" text-anchor="end">2</text>
<line x1="64.70" y1="298.36" x2="62.10" y2="298.36" stroke="#000" stroke-width="0.9"/>
<line x1="64.70" y1="313.63" x2="59.70" y2="313.63" stroke="#000" stroke-width="0.9"/>
<text x="55.90" y="317.93" font-size="12.5" text-anchor="end">4</text>
<line x1="64.70" y1="328.90" x2="62.10" y2="328.90" stroke="#000" stroke-width="0.9"/>
<line x1="278.60" y1="59.10" x2="283.60" y2="59.10" stroke="#000" stroke-width="0.9"/>
<text x="300.60" y="63.50" font-size="12.5" text-anchor="end">4</text>
<line x1="278.60" y1="82.80" x2="281.20" y2="82.80" stroke="#000" stroke-width="0.9"/>
<line x1="278.60" y1="106.50" x2="283.60" y2="106.50" stroke="#000" stroke-width="0.9"/>
<text x="300.60" y="110.90" font-size="12.5" text-anchor="end">6</text>
<line x1="278.60" y1="130.20" x2="281.20" y2="130.20" stroke="#000" stroke-width="0.9"/>
<line x1="278.60" y1="153.90" x2="283.60" y2="153.90" stroke="#000" stroke-width="0.9"/>
<text x="300.60" y="158.30" font-size="12.5" text-anchor="end">8</text>
<line x1="278.60" y1="177.60" x2="281.20" y2="177.60" stroke="#000" stroke-width="0.9"/>
<line x1="278.60" y1="201.30" x2="283.60" y2="201.30" stroke="#000" stroke-width="0.9"/>
<text x="300.60" y="205.70" font-size="12.5" text-anchor="end">10</text>
<line x1="278.60" y1="225.00" x2="281.20" y2="225.00" stroke="#000" stroke-width="0.9"/>
<line x1="278.60" y1="248.70" x2="283.60" y2="248.70" stroke="#000" stroke-width="0.9"/>
<text x="300.60" y="253.10" font-size="12.5" text-anchor="end">12</text>
<line x1="278.60" y1="272.40" x2="281.20" y2="272.40" stroke="#000" stroke-width="0.9"/>
<line x1="278.60" y1="296.10" x2="283.60" y2="296.10" stroke="#000" stroke-width="0.9"/>
<text x="300.60" y="300.50" font-size="12.5" text-anchor="end">14</text>
<line x1="278.60" y1="319.80" x2="281.20" y2="319.80" stroke="#000" stroke-width="0.9"/>
<text x="171.50" y="364.20" font-size="14" text-anchor="middle">Along Strike (km)</text>
<text x="28.20" y="191.20" font-size="14" text-anchor="middle" transform="rotate(-90 28.20 191.20)">Along Dip (km)</text>
<text x="319.00" y="191.30" font-size="14" text-anchor="middle" transform="rotate(-90 319.00 191.30)">Depth (km)</text>
<text x="1.30" y="14.30" font-size="16.5" text-anchor="start">(a)</text>
<text x="402.20" y="14.30" font-size="16.5" text-anchor="start">(b)</text>
<line x1="217.2" y1="38.7" x2="271.0" y2="38.7" stroke="#000" stroke-width="1.5"/>
<path d="M279.0,38.7 L268.5,35.900000000000006 L270.5,38.7 L268.5,41.5 Z" fill="#000"/>
<text x="273.80" y="34.60" font-size="16.6" text-anchor="end">N49°E</text>
<line x1="589.4" y1="38.7" x2="641.8" y2="38.7" stroke="#000" stroke-width="1.5"/>
<path d="M649.8,38.7 L639.3,35.900000000000006 L641.3,38.7 L639.3,41.5 Z" fill="#000"/>
<text x="645.90" y="34.60" font-size="16.6" text-anchor="end">N49°E</text>
<line x1="18.9" y1="53.7" x2="18.9" y2="106.5" stroke="#000" stroke-width="1.5"/>
<path d="M18.9,114.5 L16.099999999999998,104.0 L18.9,106.0 L21.7,104.0 Z" fill="#000"/>
<text x="15.40" y="54.50" font-size="16.7" text-anchor="end" transform="rotate(-90 15.40 54.50)">Dip 40°</text>
<line x1="421.7" y1="53.7" x2="421.7" y2="106.5" stroke="#000" stroke-width="1.5"/>
<path d="M421.7,114.5 L418.9,104.0 L421.7,106.0 L424.5,104.0 Z" fill="#000"/>
<text x="418.20" y="54.50" font-size="16.7" text-anchor="end" transform="rotate(-90 418.20 54.50)">Dip 40°</text>
<path d="M332.6,114.2 L365.6,114.2 L363.0,104.0 L373.3,118.6 L363.0,133.2 L365.6,123.1 L332.6,123.1 Z" fill="none" stroke="#000" stroke-width="1.4" stroke-linejoin="miter"/>
<text x="333.50" y="107.30" font-size="14" text-anchor="start">1m</text>
<defs><linearGradient id="cb" x1="0" y1="1" x2="0" y2="0"><stop offset="0.0000" stop-color="rgb(255, 255, 255)"/><stop offset="0.0250" stop-color="rgb(255, 255, 234)"/><stop offset="0.0500" stop-color="rgb(255, 255, 214)"/><stop offset="0.0750" stop-color="rgb(255, 254, 193)"/><stop offset="0.1000" stop-color="rgb(255, 253, 172)"/><stop offset="0.1250" stop-color="rgb(255, 253, 152)"/><stop offset="0.1500" stop-color="rgb(255, 251, 131)"/><stop offset="0.1750" stop-color="rgb(255, 250, 111)"/><stop offset="0.2000" stop-color="rgb(255, 249, 91)"/><stop offset="0.2250" stop-color="rgb(255, 247, 70)"/><stop offset="0.2500" stop-color="rgb(255, 245, 50)"/><stop offset="0.2500" stop-color="rgb(255, 240, 40)"/><stop offset="0.2750" stop-color="rgb(255, 231, 33)"/><stop offset="0.3000" stop-color="rgb(255, 222, 27)"/><stop offset="0.3250" stop-color="rgb(255, 213, 20)"/><stop offset="0.3500" stop-color="rgb(255, 204, 13)"/><stop offset="0.3750" stop-color="rgb(255, 195, 7)"/><stop offset="0.4000" stop-color="rgb(255, 186, 0)"/><stop offset="0.4250" stop-color="rgb(255, 177, 0)"/><stop offset="0.4500" stop-color="rgb(255, 168, 0)"/><stop offset="0.4750" stop-color="rgb(255, 159, 0)"/><stop offset="0.5000" stop-color="rgb(255, 149, 0)"/><stop offset="0.5250" stop-color="rgb(255, 135, 0)"/><stop offset="0.5500" stop-color="rgb(255, 121, 0)"/><stop offset="0.5750" stop-color="rgb(255, 107, 0)"/><stop offset="0.6000" stop-color="rgb(255, 93, 0)"/><stop offset="0.6250" stop-color="rgb(255, 80, 0)"/><stop offset="0.6500" stop-color="rgb(255, 66, 0)"/><stop offset="0.6750" stop-color="rgb(255, 52, 0)"/><stop offset="0.7000" stop-color="rgb(255, 38, 0)"/><stop offset="0.7250" stop-color="rgb(255, 24, 0)"/><stop offset="0.7500" stop-color="rgb(255, 11, 0)"/><stop offset="0.7750" stop-color="rgb(252, 0, 0)"/><stop offset="0.8000" stop-color="rgb(238, 0, 0)"/><stop offset="0.8250" stop-color="rgb(224, 0, 0)"/><stop offset="0.8500" stop-color="rgb(210, 0, 0)"/><stop offset="0.8750" stop-color="rgb(197, 0, 0)"/><stop offset="0.9000" stop-color="rgb(183, 0, 0)"/><stop offset="0.9250" stop-color="rgb(169, 0, 0)"/><stop offset="0.9500" stop-color="rgb(155, 0, 0)"/><stop offset="0.9750" stop-color="rgb(141, 0, 0)"/><stop offset="1.0000" stop-color="rgb(128, 0, 0)"/></linearGradient></defs>
<rect x="345.1" y="176.3" width="15.20" height="152.40" fill="url(#cb)" stroke="#000" stroke-width="1.5"/>
<line x1="361.00" y1="328.70" x2="363.60" y2="328.70" stroke="#000" stroke-width="0.8"/>
<text x="365.90" y="332.90" font-size="11.7" text-anchor="start">0.0</text>
<line x1="361.00" y1="309.65" x2="362.30" y2="309.65" stroke="#000" stroke-width="0.8"/>
<line x1="361.00" y1="290.60" x2="363.60" y2="290.60" stroke="#000" stroke-width="0.8"/>
<line x1="345.10" y1="290.60" x2="360.30" y2="290.60" stroke="#000" stroke-width="0.8"/>
<text x="365.90" y="294.80" font-size="11.7" text-anchor="start">0.2</text>
<line x1="361.00" y1="271.55" x2="362.30" y2="271.55" stroke="#000" stroke-width="0.8"/>
<line x1="361.00" y1="252.50" x2="363.60" y2="252.50" stroke="#000" stroke-width="0.8"/>
<line x1="345.10" y1="252.50" x2="360.30" y2="252.50" stroke="#000" stroke-width="0.8"/>
<text x="365.90" y="256.70" font-size="11.7" text-anchor="start">0.4</text>
<line x1="361.00" y1="233.45" x2="362.30" y2="233.45" stroke="#000" stroke-width="0.8"/>
<line x1="361.00" y1="214.40" x2="363.60" y2="214.40" stroke="#000" stroke-width="0.8"/>
<line x1="345.10" y1="214.40" x2="360.30" y2="214.40" stroke="#000" stroke-width="0.8"/>
<text x="365.90" y="218.60" font-size="11.7" text-anchor="start">0.6</text>
<line x1="361.00" y1="195.35" x2="362.30" y2="195.35" stroke="#000" stroke-width="0.8"/>
<line x1="361.00" y1="176.30" x2="363.60" y2="176.30" stroke="#000" stroke-width="0.8"/>
<text x="365.90" y="180.50" font-size="11.7" text-anchor="start">0.8</text>
<text x="394.60" y="252.80" font-size="14" text-anchor="middle" transform="rotate(-90 394.60 252.80)">Slip (m)</text>
<path fill="#002571" d="M438.04,84.62 L438.04,83.52 L441.44,79.45 L443.46,76.10 L445.23,72.00 L446.58,74.70 L447.96,75.37 L449.58,74.43 L450.93,76.74 L452.98,78.54 L455.00,79.05 L457.05,80.82 L459.08,80.15 L461.10,79.45 L462.75,76.74 L464.49,79.45 L465.87,83.52 L466.47,84.62 L466.47,84.62ZM472.64,84.62 L472.64,83.52 L475.36,81.49 L478.09,78.78 L480.11,76.74 L482.16,76.07 L484.18,74.03 L485.56,75.37 L486.91,76.07 L488.26,74.70 L489.63,75.37 L490.98,78.11 L493.03,80.15 L495.05,82.19 L496.40,83.52 L497.00,84.62 L497.00,84.62ZM503.20,84.62 L503.20,83.52 L505.92,81.49 L508.65,77.41 L510.42,72.27 L512.02,73.33 L513.67,72.00 L515.42,70.90 L516.79,73.33 L518.14,72.66 L519.49,73.33 L520.87,75.37 L522.89,76.35 L524.94,77.41 L526.71,82.19 L527.66,83.52 L528.26,84.62 L528.26,84.62ZM529.81,84.62 L529.81,83.40 L532.53,80.15 L535.26,76.53 L537.06,73.82 L538.87,76.53 L541.60,77.44 L543.40,77.96 L545.21,75.62 L547.02,77.44 L548.82,76.89 L550.63,78.32 L553.35,78.32 L555.16,80.15 L557.00,82.86 L557.60,84.62 L557.60,84.62ZM560.58,84.62 L560.58,83.40 L562.02,78.35 L563.31,75.10 L565.11,79.27 L566.92,81.61 L569.64,80.51 L571.45,78.35 L573.26,80.15 L575.98,81.06 L578.71,81.61 L580.88,79.78 L582.32,81.97 L584.13,83.40 L584.73,84.62 L584.73,84.62ZM591.02,84.62 L591.02,82.86 L592.27,79.27 L593.53,76.16 L595.33,78.35 L597.69,79.27 L600.42,80.15 L602.22,79.78 L604.92,81.06 L607.64,81.06 L610.37,80.15 L612.73,78.35 L614.53,75.62 L615.79,73.46 L617.04,76.53 L618.51,82.86 L619.11,84.62 L619.11,84.62ZM621.76,84.62 L621.76,82.86 L623.93,78.35 L626.66,75.62 L628.46,72.00 L630.27,73.82 L632.08,71.11 L633.55,71.11 L634.80,74.70 L636.61,77.44 L639.34,80.15 L642.03,79.27 L644.75,78.35 L646.56,75.62 L648.37,80.15 L649.65,82.86 L650.25,84.62 L650.25,84.62ZM437.37,115.04 L437.37,114.55 L438.44,108.44 L439.82,103.02 L440.76,101.93 L442.11,103.69 L443.46,102.32 L444.84,100.56 L445.79,101.66 L446.86,105.73 L448.24,107.07 L449.58,108.44 L450.93,111.15 L452.31,113.18 L454.33,114.16 L456.38,112.79 L458.00,111.15 L459.78,112.12 L461.80,112.24 L463.85,112.79 L465.20,114.16 L465.80,115.04 L465.80,115.04ZM469.27,115.04 L469.27,114.16 L471.57,112.79 L473.74,111.15 L475.64,109.53 L477.42,111.15 L479.44,111.85 L481.49,112.24 L483.51,111.85 L484.61,111.15 L486.24,112.52 L488.29,113.61 L490.31,113.18 L492.33,111.85 L493.71,110.90 L495.05,112.52 L496.40,114.16 L497.00,115.04 L497.00,115.04ZM501.18,115.04 L501.18,114.16 L503.87,113.18 L505.92,111.85 L507.94,113.18 L510.00,114.16 L512.02,114.16 L514.07,113.18 L516.09,112.79 L518.14,112.24 L519.49,111.57 L521.54,112.52 L523.56,112.79 L525.61,113.88 L526.21,115.04 L526.21,115.04ZM529.47,115.04 L529.47,113.85 L530.73,112.06 L532.53,110.23 L534.34,112.06 L537.06,112.97 L539.76,112.61 L542.48,111.51 L545.21,109.32 L547.02,108.96 L548.30,109.69 L549.74,108.07 L550.63,108.44 L551.91,111.15 L553.35,112.97 L555.16,113.85 L555.76,115.04 L555.76,115.04ZM560.58,115.04 L560.58,113.85 L562.39,111.15 L564.19,107.53 L566.00,105.37 L567.81,102.63 L569.28,105.37 L570.53,106.61 L572.34,107.16 L574.15,108.44 L575.95,107.53 L577.76,109.32 L579.56,110.23 L581.40,111.51 L584.10,113.34 L586.82,114.40 L587.42,115.04 L587.42,115.04ZM591.02,115.04 L591.02,113.85 L592.27,111.15 L593.53,107.53 L595.33,105.70 L597.14,103.91 L598.61,102.08 L600.05,105.37 L601.86,104.82 L603.66,107.53 L605.47,109.32 L607.64,110.78 L609.82,112.06 L612.18,112.61 L614.87,112.97 L617.59,113.85 L618.19,115.04 L618.19,115.04ZM621.76,115.04 L621.76,112.97 L623.05,110.23 L624.85,108.07 L626.66,109.32 L628.46,108.44 L630.27,110.78 L632.63,112.06 L634.80,112.06 L636.98,110.78 L638.78,112.06 L641.14,112.97 L643.87,113.85 L647.48,114.40 L648.08,115.04 L648.08,115.04ZM438.04,145.46 L438.04,144.55 L439.42,142.51 L440.76,141.14 L442.79,140.47 L444.16,139.13 L445.51,138.16 L446.86,138.16 L448.24,136.39 L449.31,134.36 L450.26,136.39 L451.21,139.80 L452.31,142.51 L453.38,144.15 L455.00,143.21 L456.38,141.84 L458.00,140.90 L459.78,141.84 L461.80,142.78 L463.85,143.60 L465.20,144.55 L465.80,145.46 L465.80,145.46ZM468.57,145.46 L468.57,144.15 L469.95,141.14 L471.57,138.16 L472.92,139.53 L474.29,140.08 L475.64,140.08 L476.99,141.14 L478.76,141.84 L480.78,142.51 L482.84,143.21 L484.86,143.21 L486.91,143.21 L488.96,143.21 L490.31,143.60 L491.65,144.55 L492.25,145.46 L492.25,145.46ZM499.52,145.46 L499.52,144.55 L500.90,142.51 L502.52,141.84 L504.58,140.47 L505.92,139.13 L506.87,138.16 L507.94,138.71 L509.32,137.76 L510.39,136.00 L511.34,138.43 L512.72,141.14 L513.67,143.21 L514.74,144.55 L515.34,145.46 L515.34,145.46ZM530.17,145.46 L530.17,143.88 L532.53,140.26 L534.89,136.64 L536.70,133.02 L537.98,134.81 L539.79,133.90 L541.60,131.74 L542.85,134.81 L544.66,137.52 L547.02,140.26 L549.74,142.05 L552.47,142.97 L555.16,143.88 L556.97,144.40 L557.57,145.46 L557.57,145.46ZM560.58,145.46 L560.58,142.97 L562.05,137.52 L563.31,134.81 L565.11,136.64 L566.92,135.36 L568.73,136.64 L571.45,133.54 L573.26,137.52 L575.06,138.43 L577.79,138.98 L580.48,139.35 L582.29,140.26 L584.46,139.35 L586.27,141.14 L587.71,143.88 L588.31,145.46 L588.31,145.46ZM591.35,145.46 L591.35,142.97 L592.82,140.26 L595.00,138.98 L597.69,137.52 L599.50,138.98 L601.86,137.89 L604.03,139.35 L606.76,137.16 L608.56,138.43 L610.37,136.64 L611.62,135.73 L613.06,139.35 L614.87,141.14 L617.04,142.97 L618.51,144.40 L619.11,145.46 L619.11,145.46ZM621.76,145.46 L621.76,142.97 L623.05,137.52 L624.30,132.11 L625.74,133.54 L627.21,132.11 L628.65,129.92 L630.27,135.73 L632.08,138.43 L634.44,140.26 L636.61,140.26 L638.42,142.05 L641.14,142.97 L643.87,143.88 L646.56,144.40 L647.16,145.46 L647.16,145.46ZM437.64,175.88 L437.64,175.12 L438.99,170.10 L440.34,166.02 L441.44,166.45 L442.79,165.35 L444.16,165.08 L445.23,163.99 L446.18,166.72 L447.53,169.43 L449.58,170.80 L451.60,171.47 L453.38,171.07 L455.00,171.47 L457.05,171.47 L458.40,171.07 L459.78,172.14 L461.13,173.78 L462.47,175.12 L463.07,175.88 L463.07,175.88ZM468.57,175.88 L468.57,175.12 L469.95,168.06 L471.02,162.65 L471.97,163.32 L472.92,165.35 L474.02,165.08 L475.36,163.99 L476.71,166.72 L478.09,168.76 L480.11,170.80 L482.16,172.14 L484.18,172.84 L486.24,173.51 L488.29,173.51 L490.31,173.23 L492.33,172.84 L493.71,171.86 L495.05,173.51 L496.40,175.12 L497.00,175.88 L497.00,175.88ZM499.13,175.88 L499.13,175.12 L500.47,171.47 L501.85,166.72 L503.20,165.35 L504.58,166.02 L505.53,163.99 L506.60,161.95 L507.70,163.71 L508.65,165.35 L510.00,163.32 L511.07,162.92 L512.29,165.35 L513.67,167.39 L515.02,168.76 L516.79,169.43 L518.54,170.80 L520.16,171.47 L521.78,172.14 L523.56,172.84 L525.58,174.18 L526.68,175.12 L527.28,175.88 L527.28,175.88ZM533.08,175.88 L533.08,174.88 L534.89,171.80 L536.70,168.18 L538.87,166.36 L540.68,164.56 L542.15,166.36 L543.40,167.64 L545.21,166.36 L547.02,167.09 L548.82,165.81 L550.11,164.56 L551.55,168.18 L553.35,170.34 L555.16,173.05 L556.97,174.88 L557.57,175.88 L557.57,175.88ZM560.95,175.88 L560.95,173.96 L563.31,171.26 L566.00,171.26 L568.73,169.98 L571.45,167.64 L574.18,165.81 L576.53,161.64 L578.34,165.26 L580.15,164.02 L581.95,166.36 L583.76,167.64 L585.57,170.34 L587.37,173.96 L587.97,175.88 L587.97,175.88ZM591.02,175.88 L591.02,173.96 L592.27,164.93 L593.53,157.32 L595.00,159.48 L596.44,158.57 L597.72,160.40 L598.98,158.02 L600.42,156.78 L601.86,159.85 L603.11,159.12 L604.40,162.74 L605.84,163.10 L607.64,164.93 L609.45,167.64 L612.18,168.55 L614.90,169.43 L617.07,172.14 L618.51,174.88 L619.11,175.88 L619.11,175.88ZM621.76,175.88 L621.76,173.96 L623.05,164.93 L624.30,157.32 L625.74,159.12 L627.21,157.66 L628.65,154.40 L630.27,159.48 L631.53,162.74 L633.36,163.10 L635.17,164.02 L636.61,162.19 L638.05,164.56 L639.89,163.10 L641.69,161.64 L642.95,164.93 L644.75,167.64 L646.56,168.91 L648.37,172.17 L649.65,174.88 L650.25,175.88 L650.25,175.88ZM437.64,206.30 L437.64,205.14 L438.99,202.13 L440.76,200.09 L442.11,201.46 L444.16,202.83 L446.18,203.78 L448.24,205.14 L449.58,205.14 L450.93,203.23 L452.31,200.79 L453.93,198.76 L455.28,200.52 L457.05,200.79 L459.08,200.52 L460.73,199.70 L462.47,195.35 L463.85,198.06 L464.80,201.43 L465.60,205.14 L466.20,206.30 L466.20,206.30ZM468.29,206.30 L468.29,205.14 L469.27,199.43 L470.22,194.01 L471.57,189.66 L472.64,191.27 L473.74,191.97 L474.69,189.93 L475.64,188.57 L476.71,192.64 L478.09,196.02 L479.44,197.39 L480.78,198.06 L482.16,200.09 L483.51,200.79 L484.86,201.07 L486.24,201.86 L487.58,202.13 L489.21,203.50 L490.98,204.60 L492.33,205.14 L492.93,206.30 L492.93,206.30ZM501.85,206.30 L501.85,205.14 L503.20,201.46 L504.58,196.72 L505.92,193.31 L506.87,191.97 L507.98,194.01 L509.32,192.64 L510.39,191.27 L511.50,193.31 L512.72,194.01 L514.07,192.92 L515.45,192.37 L516.79,195.35 L518.14,197.39 L519.92,198.76 L521.54,200.09 L522.89,201.46 L524.51,202.83 L525.89,204.17 L526.96,205.14 L527.56,206.30 L527.56,206.30ZM530.17,206.30 L530.17,203.96 L531.64,200.34 L533.08,196.35 L534.34,195.81 L535.63,194.01 L537.06,192.19 L538.50,195.26 L539.79,197.63 L541.60,198.18 L543.40,199.43 L545.21,198.54 L547.02,198.91 L548.82,198.18 L550.11,197.63 L551.55,198.91 L553.35,199.43 L554.79,198.54 L556.08,201.25 L557.33,204.87 L557.93,206.30 L557.93,206.30ZM560.58,206.30 L560.58,204.87 L562.05,197.63 L563.31,189.87 L564.59,188.60 L565.66,183.18 L566.92,178.25 L568.20,184.06 L569.28,189.11 L570.53,189.84 L571.82,191.64 L573.26,192.73 L574.70,194.01 L575.95,192.19 L577.24,195.81 L578.68,197.08 L580.48,199.43 L582.29,201.80 L584.46,203.96 L586.82,205.42 L587.42,206.30 L587.42,206.30ZM591.02,206.30 L591.02,204.87 L592.27,198.54 L593.53,192.19 L595.00,188.02 L596.44,187.29 L597.72,181.51 L598.61,177.71 L599.71,182.24 L600.78,185.86 L601.86,184.95 L603.11,187.68 L604.40,190.39 L605.84,188.93 L607.28,192.00 L608.56,193.83 L610.37,194.34 L612.18,195.08 L613.98,194.71 L615.24,192.92 L616.34,198.36 L617.59,203.96 L618.51,205.42 L619.11,206.30 L619.11,206.30ZM621.76,206.30 L621.76,204.87 L623.05,200.34 L624.85,197.63 L626.66,196.35 L628.46,193.10 L630.27,192.19 L632.08,189.84 L633.88,190.91 L635.17,189.48 L636.61,188.57 L638.05,190.39 L639.34,192.19 L641.14,191.27 L642.40,193.10 L643.87,197.63 L645.67,201.25 L647.48,203.96 L649.65,205.42 L650.25,206.30 L650.25,206.30ZM437.64,236.72 L437.64,236.14 L438.99,234.77 L440.76,233.83 L442.51,234.77 L444.16,235.59 L445.79,235.20 L447.53,232.46 L449.31,229.08 L450.65,231.79 L452.03,234.50 L453.66,235.87 L455.00,235.20 L456.66,233.13 L458.40,231.12 L459.78,231.79 L461.13,232.07 L462.47,231.12 L463.85,233.13 L465.20,235.59 L465.80,236.72 L465.80,236.72ZM468.57,236.72 L468.57,236.14 L469.67,227.75 L470.62,220.93 L471.57,216.89 L472.64,220.93 L473.74,224.34 L475.09,225.71 L476.47,226.38 L477.81,227.72 L478.76,227.44 L479.71,226.65 L480.78,227.99 L482.16,230.15 L483.79,231.12 L485.56,232.07 L487.31,233.83 L489.21,233.83 L490.98,234.23 L492.76,234.50 L494.38,235.20 L495.73,236.14 L496.33,236.72 L496.33,236.72ZM499.13,236.72 L499.13,236.14 L500.08,230.45 L501.18,223.64 L502.52,220.26 L503.87,219.56 L504.97,215.52 L506.32,209.80 L507.42,215.52 L508.65,220.93 L510.00,222.30 L511.34,223.64 L512.72,225.68 L514.07,223.64 L515.45,222.57 L516.79,225.68 L518.14,227.05 L519.52,227.05 L520.87,227.99 L522.21,228.38 L523.59,227.72 L524.54,229.08 L525.61,232.46 L526.68,236.14 L527.28,236.72 L527.28,236.72ZM530.17,236.72 L530.17,235.87 L532.53,233.16 L534.89,230.45 L536.70,226.80 L537.98,225.92 L539.24,223.18 L541.04,219.56 L542.48,222.27 L543.95,224.10 L545.21,221.91 L546.46,223.18 L547.93,224.10 L549.37,223.18 L550.63,226.80 L551.91,228.63 L553.72,231.34 L555.53,234.04 L556.97,235.87 L557.57,236.72 L557.57,236.72ZM560.58,236.72 L560.58,234.96 L561.68,227.72 L562.75,224.10 L563.86,222.27 L565.11,225.01 L566.40,223.73 L567.84,221.91 L569.28,223.18 L570.53,221.39 L571.82,219.56 L573.26,222.27 L574.70,223.18 L575.98,220.48 L577.24,222.27 L578.68,223.18 L580.12,221.39 L581.40,220.48 L582.66,225.01 L584.13,229.54 L585.57,233.16 L586.82,235.87 L587.42,236.72 L587.42,236.72ZM591.35,236.72 L591.35,234.96 L592.82,227.72 L594.08,225.01 L595.36,223.18 L596.80,221.39 L598.24,220.48 L599.50,221.39 L600.78,219.56 L602.22,216.86 L603.66,220.48 L604.95,221.91 L606.20,222.27 L607.67,223.18 L609.11,225.01 L610.37,223.73 L611.65,225.01 L613.09,225.92 L614.53,226.29 L615.79,224.10 L617.04,227.72 L618.15,233.16 L618.88,235.87 L619.48,236.72 L619.48,236.72ZM622.13,236.72 L622.13,234.96 L623.93,231.34 L625.74,228.63 L627.58,225.92 L629.02,223.18 L630.27,225.01 L631.53,224.10 L633.00,222.64 L634.80,223.18 L636.24,221.91 L637.53,221.39 L638.78,223.18 L640.25,225.01 L641.69,225.56 L643.13,226.80 L644.75,229.54 L646.56,231.34 L647.85,233.16 L649.29,235.87 L649.89,236.72 L649.89,236.72ZM440.09,267.14 L440.09,266.53 L442.79,266.14 L445.51,265.86 L447.53,265.19 L449.58,264.22 L451.60,262.88 L452.98,262.06 L454.05,260.69 L455.28,262.46 L456.66,264.22 L458.00,265.19 L459.35,264.49 L460.73,263.15 L462.08,261.79 L463.15,262.46 L464.25,263.82 L465.20,265.86 L465.80,267.14 L465.80,267.14ZM468.57,267.14 L468.57,266.14 L469.95,264.49 L471.29,263.15 L472.64,264.22 L474.69,264.77 L476.71,264.77 L478.37,264.22 L479.71,263.15 L481.06,263.82 L482.44,263.43 L484.18,262.46 L485.56,263.82 L487.31,265.19 L489.21,265.59 L490.98,264.49 L492.76,262.88 L494.10,264.22 L495.73,266.14 L496.33,267.14 L496.33,267.14ZM499.13,267.14 L499.13,266.14 L500.08,263.15 L501.18,259.08 L502.52,256.37 L503.87,255.00 L504.97,250.93 L506.32,246.58 L507.42,249.56 L508.65,251.60 L510.00,250.26 L510.95,248.89 L512.02,252.30 L513.39,255.00 L514.74,256.10 L516.09,257.71 L517.47,259.35 L519.09,260.45 L520.87,261.51 L522.89,262.88 L524.94,264.22 L526.68,265.86 L527.28,267.14 L527.28,267.14ZM529.81,267.14 L529.81,264.98 L530.91,258.62 L532.35,252.30 L533.82,255.92 L535.26,258.62 L537.06,260.45 L538.87,261.69 L540.68,262.79 L542.48,262.24 L544.29,259.53 L545.76,255.55 L547.02,256.83 L548.30,256.28 L549.74,255.00 L551.18,257.71 L552.47,258.62 L553.72,257.71 L555.16,259.53 L556.63,263.15 L557.33,265.86 L557.93,267.14 L557.93,267.14ZM560.58,267.14 L560.58,265.86 L562.05,258.62 L563.31,253.21 L565.11,252.30 L566.40,247.76 L567.47,244.14 L568.73,247.76 L570.01,251.38 L571.08,250.10 L572.37,252.30 L573.62,256.83 L575.09,258.62 L576.90,259.53 L578.71,261.00 L580.51,259.17 L581.95,260.45 L583.21,259.53 L585.02,261.00 L586.82,263.15 L588.11,265.86 L588.71,267.14 L588.71,267.14ZM591.35,267.14 L591.35,265.86 L592.82,262.24 L594.08,259.53 L595.36,261.00 L596.80,260.45 L598.61,261.00 L600.42,259.90 L602.22,255.92 L603.66,258.62 L604.95,257.38 L606.20,257.71 L607.67,257.38 L609.11,261.33 L610.92,264.62 L613.09,265.86 L615.79,266.41 L618.15,266.77 L618.75,267.14 L618.75,267.14ZM621.76,267.14 L621.76,265.86 L623.05,263.15 L624.85,261.33 L626.66,262.79 L628.46,263.52 L630.27,264.07 L632.63,264.07 L634.44,261.33 L635.69,257.71 L637.53,252.66 L638.78,255.92 L640.25,257.71 L641.69,257.38 L642.95,260.45 L644.23,263.15 L645.67,265.86 L646.27,267.14 L646.27,267.14ZM440.76,297.56 L440.76,297.13 L442.79,295.52 L444.41,293.88 L446.18,293.48 L447.96,292.54 L449.31,290.75 L450.65,292.78 L452.03,294.43 L453.66,295.25 L455.28,295.52 L456.66,294.82 L458.00,293.88 L459.35,294.43 L460.73,294.82 L462.47,294.15 L463.85,295.25 L465.20,296.86 L465.80,297.56 L465.80,297.56ZM468.57,297.56 L468.57,296.86 L469.67,294.15 L470.62,292.11 L471.57,290.35 L472.64,292.78 L473.74,295.25 L475.36,296.59 L477.42,296.86 L479.16,295.80 L480.78,295.80 L482.44,295.52 L484.18,294.82 L485.56,295.52 L487.31,295.80 L489.21,295.80 L490.98,296.19 L492.76,295.52 L494.10,296.19 L495.45,297.13 L496.05,297.56 L496.05,297.56ZM499.52,297.56 L499.52,296.86 L501.18,294.15 L502.80,291.72 L504.15,288.74 L505.25,284.66 L506.32,279.49 L507.27,283.29 L508.37,286.70 L509.60,288.04 L510.95,289.80 L512.29,291.17 L513.67,292.11 L515.02,292.54 L516.09,293.88 L517.47,295.25 L519.09,296.19 L520.87,295.80 L522.61,295.25 L523.56,294.15 L524.94,295.52 L526.29,296.86 L526.89,297.56 L526.89,297.56ZM529.81,297.56 L529.81,295.98 L531.28,292.36 L532.53,290.17 L533.82,292.36 L535.26,295.07 L537.06,296.34 L538.50,294.15 L539.79,291.45 L541.04,289.62 L542.48,290.17 L543.95,289.07 L545.39,286.91 L546.83,289.62 L548.30,293.24 L549.74,295.07 L551.91,295.98 L554.27,296.34 L556.63,296.86 L557.23,297.56 L557.23,297.56ZM560.58,297.56 L560.58,295.98 L562.05,290.17 L563.31,286.00 L564.59,288.74 L566.03,290.90 L567.84,291.99 L569.64,293.79 L571.82,293.79 L573.62,292.69 L575.06,290.53 L576.53,288.74 L577.79,291.45 L579.60,293.24 L581.40,294.15 L583.21,295.07 L585.02,295.98 L586.82,296.86 L587.42,297.56 L587.42,297.56ZM591.35,297.56 L591.35,295.98 L592.82,291.45 L594.08,288.37 L595.36,290.53 L596.80,290.17 L598.24,290.90 L600.05,290.53 L601.30,288.74 L602.56,286.55 L604.03,289.62 L605.47,291.45 L606.94,292.36 L608.56,295.07 L610.37,296.34 L612.18,296.86 L613.98,296.86 L615.79,295.98 L617.59,296.86 L618.51,297.41 L619.11,297.56 L619.11,297.56ZM621.76,297.56 L621.76,296.86 L623.05,293.79 L624.85,291.45 L626.66,292.36 L628.46,293.24 L630.27,293.24 L632.08,294.15 L633.88,294.52 L635.69,295.07 L637.53,295.07 L639.34,293.24 L640.59,291.45 L641.69,289.62 L642.95,291.45 L644.75,293.24 L646.56,295.07 L648.37,296.34 L649.65,297.41 L650.25,297.56 L650.25,297.56ZM437.64,327.98 L437.64,327.13 L438.71,322.78 L439.82,319.37 L440.76,317.36 L441.71,318.46 L442.79,319.40 L443.89,319.80 L444.84,318.98 L445.79,319.40 L446.86,318.98 L447.96,317.36 L449.31,314.38 L450.26,317.36 L451.21,319.80 L452.55,321.17 L453.93,322.11 L455.28,322.78 L456.66,323.48 L458.00,323.05 L459.35,324.15 L461.13,325.24 L462.90,326.19 L464.53,327.13 L465.13,327.98 L465.13,327.98ZM476.71,327.98 L476.71,327.13 L478.37,325.52 L480.11,323.87 L481.89,322.78 L483.51,321.44 L484.86,320.07 L485.96,321.44 L487.31,320.77 L488.65,320.07 L490.03,321.71 L491.38,322.53 L492.76,321.44 L494.10,323.87 L495.45,326.19 L496.40,327.13 L497.00,327.98 L497.00,327.98ZM499.13,327.98 L499.13,326.85 L500.47,324.15 L501.85,322.11 L503.20,323.87 L504.58,325.79 L505.92,326.85 L507.94,327.55 L510.67,327.55 L513.39,327.55 L515.42,326.58 L516.79,324.82 L518.14,322.53 L519.49,321.17 L520.87,321.71 L522.21,321.17 L523.56,320.77 L524.94,322.78 L526.29,325.52 L527.24,327.13 L527.84,327.98 L527.84,327.98ZM529.81,327.98 L529.81,326.88 L531.28,324.54 L533.08,323.26 L534.89,322.72 L536.70,321.44 L537.98,320.89 L539.24,322.35 L540.68,323.26 L542.15,324.15 L543.40,325.97 L545.21,327.43 L547.57,327.43 L549.37,326.34 L551.18,325.97 L553.02,326.34 L554.82,325.97 L556.63,327.43 L557.23,327.98 L557.23,327.98ZM560.58,327.98 L560.58,326.88 L562.05,324.15 L563.86,322.72 L565.66,322.35 L566.95,321.44 L568.20,320.19 L569.64,321.99 L571.45,323.26 L573.26,325.06 L575.06,326.88 L576.87,327.43 L579.60,326.88 L581.95,325.06 L583.76,323.81 L585.57,321.44 L586.82,324.15 L587.71,326.88 L588.31,327.98 L588.31,327.98ZM591.35,327.98 L591.35,325.97 L592.82,323.26 L594.08,321.99 L595.36,323.26 L596.80,322.35 L598.24,323.26 L599.50,322.35 L600.78,321.99 L602.22,323.81 L603.66,325.06 L604.95,326.34 L606.76,327.43 L609.45,327.43 L611.62,326.88 L613.43,324.15 L614.90,321.44 L616.34,323.81 L617.59,325.97 L618.51,327.43 L619.11,327.98 L619.11,327.98ZM622.13,327.98 L622.13,326.88 L623.93,325.97 L625.74,326.88 L628.46,327.43 L631.19,327.43 L634.80,326.88 L636.98,325.97 L638.42,323.26 L639.89,319.64 L641.69,316.94 L642.95,319.64 L644.23,321.44 L646.04,322.35 L647.48,325.06 L648.92,327.43 L649.52,327.98 L649.52,327.98Z"/>
<line x1="467.22" y1="54.20" x2="467.22" y2="327.98" stroke="#000" stroke-width="1.4"/>
<line x1="497.84" y1="54.20" x2="497.84" y2="327.98" stroke="#000" stroke-width="1.4"/>
<line x1="528.46" y1="54.20" x2="528.46" y2="327.98" stroke="#000" stroke-width="1.4"/>
<line x1="559.08" y1="54.20" x2="559.08" y2="327.98" stroke="#000" stroke-width="1.4"/>
<line x1="589.70" y1="54.20" x2="589.70" y2="327.98" stroke="#000" stroke-width="1.4"/>
<line x1="620.32" y1="54.20" x2="620.32" y2="327.98" stroke="#000" stroke-width="1.4"/>
<line x1="650.94" y1="54.20" x2="650.94" y2="327.98" stroke="#000" stroke-width="1.4"/>
<line x1="437.10" y1="54.20" x2="650.94" y2="54.20" stroke="#000" stroke-width="1.4"/>
<line x1="437.10" y1="84.62" x2="650.94" y2="84.62" stroke="#000" stroke-width="1.4"/>
<line x1="437.10" y1="115.04" x2="650.94" y2="115.04" stroke="#000" stroke-width="1.4"/>
<line x1="437.10" y1="145.46" x2="650.94" y2="145.46" stroke="#000" stroke-width="1.4"/>
<line x1="437.10" y1="175.88" x2="650.94" y2="175.88" stroke="#000" stroke-width="1.4"/>
<line x1="437.10" y1="206.30" x2="650.94" y2="206.30" stroke="#000" stroke-width="1.4"/>
<line x1="437.10" y1="236.72" x2="650.94" y2="236.72" stroke="#000" stroke-width="1.4"/>
<line x1="437.10" y1="267.14" x2="650.94" y2="267.14" stroke="#000" stroke-width="1.4"/>
<line x1="437.10" y1="297.56" x2="650.94" y2="297.56" stroke="#000" stroke-width="1.4"/>
<line x1="437.10" y1="327.98" x2="650.94" y2="327.98" stroke="#000" stroke-width="1.4"/>
<line x1="437.10" y1="54.20" x2="437.10" y2="327.98" stroke="#666" stroke-width="1.2"/>
<path d="M668.6,298.3 L660.7,298.3 L660.7,328.3 L668.6,328.3" fill="none" stroke="#000" stroke-width="1"/>
<text x="683.00" y="327.40" font-size="12.6" text-anchor="start" transform="rotate(-90 683.00 327.40)">8.94 x 10<tspan dy="-4.3" font-size="9">16</tspan><tspan dy="4.3"> Nm/s</tspan></text>
<line x1="617.1" y1="336.7" x2="647.5" y2="336.7" stroke="#000" stroke-width="1"/>
<line x1="617.10" y1="336.70" x2="617.10" y2="345.20" stroke="#000" stroke-width="0.9"/>
<line x1="621.44" y1="336.70" x2="621.44" y2="341.80" stroke="#000" stroke-width="0.9"/>
<line x1="625.79" y1="336.70" x2="625.79" y2="341.80" stroke="#000" stroke-width="0.9"/>
<line x1="630.13" y1="336.70" x2="630.13" y2="341.80" stroke="#000" stroke-width="0.9"/>
<line x1="634.47" y1="336.70" x2="634.47" y2="341.80" stroke="#000" stroke-width="0.9"/>
<line x1="638.81" y1="336.70" x2="638.81" y2="341.80" stroke="#000" stroke-width="0.9"/>
<line x1="643.16" y1="336.70" x2="643.16" y2="341.80" stroke="#000" stroke-width="0.9"/>
<line x1="647.50" y1="336.70" x2="647.50" y2="345.20" stroke="#000" stroke-width="0.9"/>
<text x="619.20" y="360.50" font-size="12.5" text-anchor="middle">0</text>
<text x="647.00" y="360.50" font-size="12.5" text-anchor="start">2.8 s</text></svg>
</body></html>
